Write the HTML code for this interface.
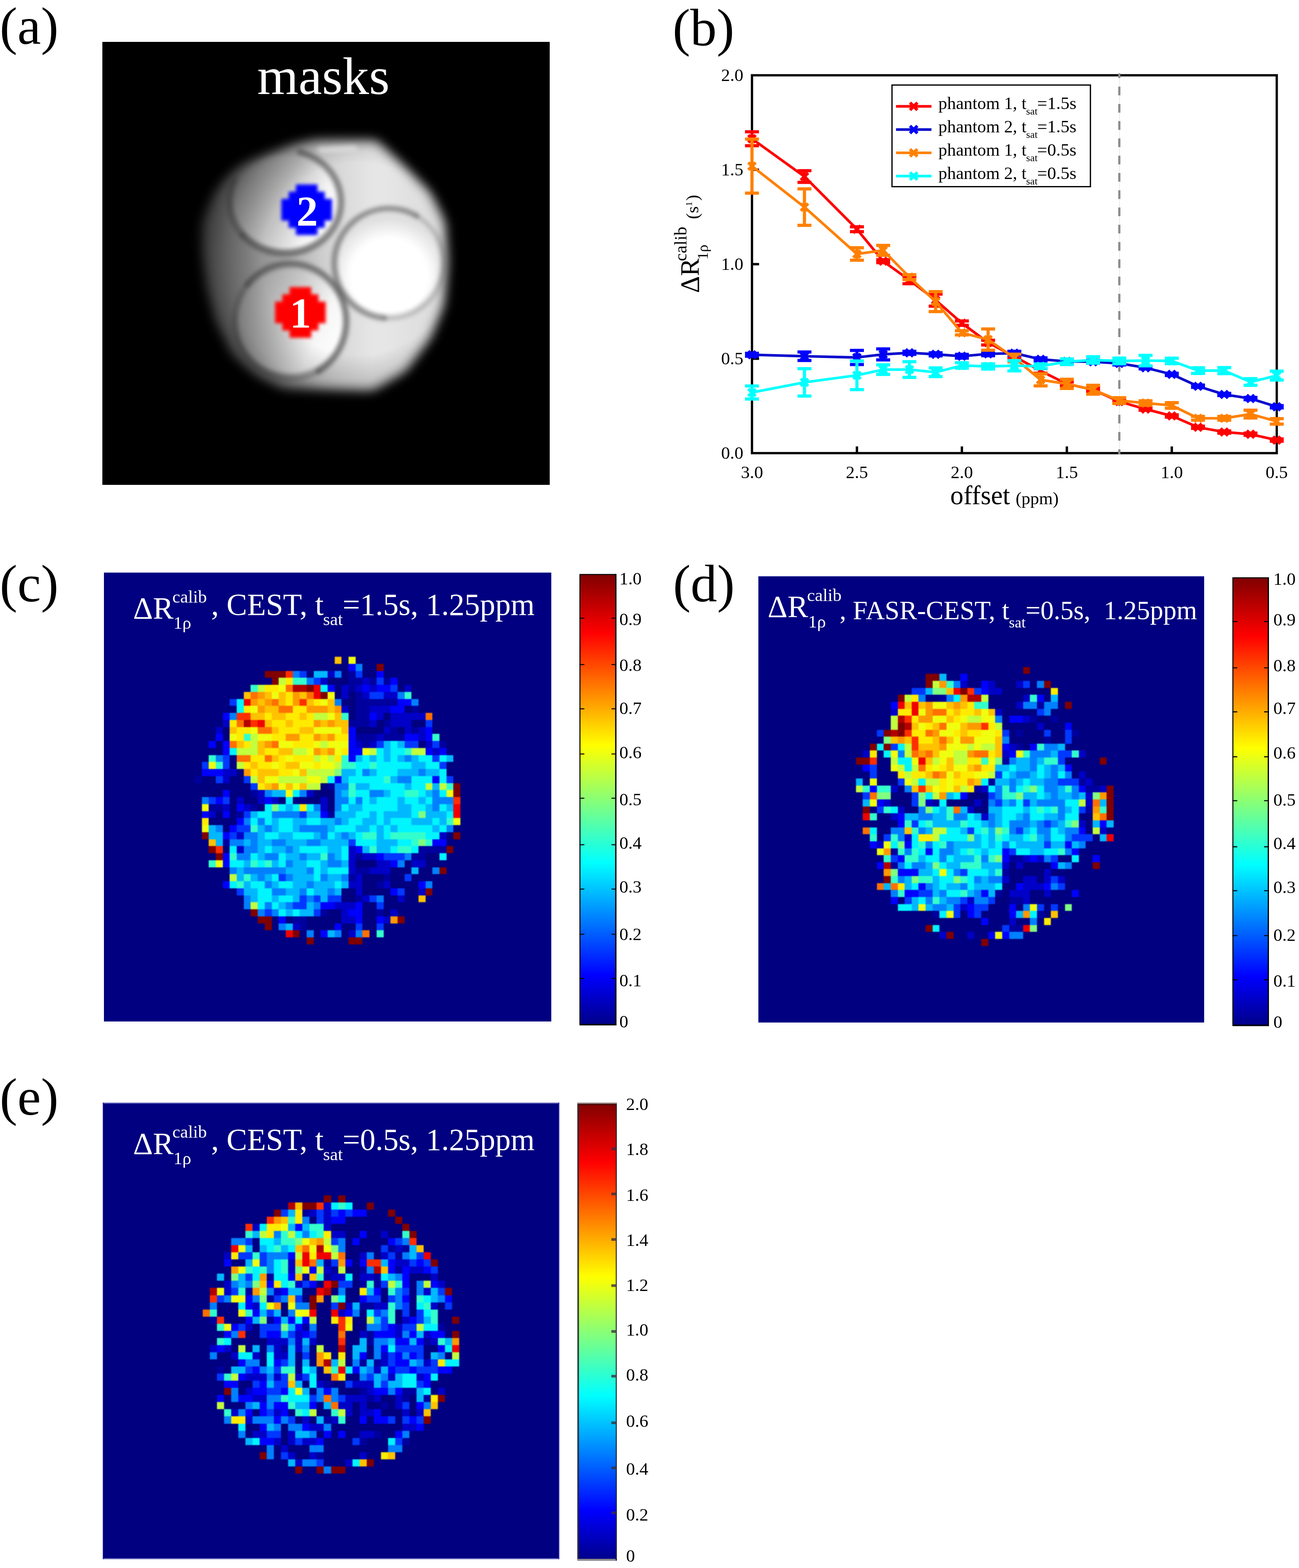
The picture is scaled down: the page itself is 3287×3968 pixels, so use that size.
<!DOCTYPE html>
<html lang="en"><head><meta charset="utf-8"><title>Figure: phantom masks, calibrated R1rho spectra and CEST maps</title>
<style>html,body{margin:0;padding:0;background:#fff}body{width:3287px;height:3968px;overflow:hidden}svg{display:block}text{white-space:pre}</style></head><body>
<svg width="3287" height="3968" viewBox="0 0 3287 3968">
<defs><linearGradient id="jet" x1="0" y1="1" x2="0" y2="0"><stop offset="0" stop-color="#000088"/><stop offset="0.11" stop-color="#0000ff"/><stop offset="0.36" stop-color="#00ffff"/><stop offset="0.62" stop-color="#ffff00"/><stop offset="0.87" stop-color="#ff0000"/><stop offset="1" stop-color="#800000"/></linearGradient><filter color-interpolation-filters="sRGB" id="bl12" x="-20%" y="-20%" width="140%" height="140%"><feGaussianBlur stdDeviation="17"/></filter><filter color-interpolation-filters="sRGB" id="bl6" x="-20%" y="-20%" width="140%" height="140%"><feGaussianBlur stdDeviation="5.5"/></filter><filter color-interpolation-filters="sRGB" id="bl3" x="-20%" y="-20%" width="140%" height="140%"><feGaussianBlur stdDeviation="5.5"/></filter><filter color-interpolation-filters="sRGB" id="bl2" x="-20%" y="-20%" width="140%" height="140%"><feGaussianBlur stdDeviation="4.2"/></filter><filter color-interpolation-filters="sRGB" id="bl20" x="-30%" y="-30%" width="160%" height="160%"><feGaussianBlur stdDeviation="24"/></filter><filter color-interpolation-filters="sRGB" id="px1" x="-3%" y="-3%" width="106%" height="106%"><feGaussianBlur stdDeviation="0.9"/></filter><filter color-interpolation-filters="sRGB" id="px2" x="-3%" y="-3%" width="106%" height="106%"><feGaussianBlur stdDeviation="1.3"/></filter><clipPath id="clipA"><rect x="259" y="106" width="1132" height="1121"/></clipPath></defs>
<rect width="3287" height="3968" fill="#fff"/>
<rect x="259" y="106" width="1132" height="1121" fill="#000"/>
<g clip-path="url(#clipA)">
<linearGradient id="gb" gradientUnits="userSpaceOnUse" x1="505" y1="0" x2="1145" y2="0"><stop offset="0" stop-color="#606060"/><stop offset="0.12" stop-color="#7c7c7c"/><stop offset="0.3" stop-color="#9c9c9c"/><stop offset="0.5" stop-color="#d2d2d2"/><stop offset="0.7" stop-color="#e8e8e8"/><stop offset="1" stop-color="#d8d8d8"/></linearGradient>
<path d="M795 346 L956 347 L1030 416 L1095 482 L1134 560 L1140 666 L1131 774 L1097 859 L1032 946 L945 997 L714 991 L646 959 L581 903 L537 817 L514 731 L502 640 L502 562 L531 490 L566 443 L612 407 L670 383 L740 358 Z" fill="url(#gb)" stroke="url(#gb)" stroke-width="6" stroke-linejoin="round" filter="url(#bl12)"/>
<radialGradient id="g3" gradientUnits="userSpaceOnUse" cx="985" cy="700" r="150"><stop offset="0" stop-color="#fff"/><stop offset="0.65" stop-color="#fff"/><stop offset="1" stop-color="#dedede"/></radialGradient>
<linearGradient id="g2" gradientUnits="userSpaceOnUse" x1="590" y1="480" x2="850" y2="600"><stop offset="0" stop-color="#8c8c8c"/><stop offset="0.4" stop-color="#bcbcbc"/><stop offset="0.75" stop-color="#f4f4f4"/><stop offset="1" stop-color="#ffffff"/></linearGradient>
<linearGradient id="g1" gradientUnits="userSpaceOnUse" x1="600" y1="760" x2="870" y2="880"><stop offset="0" stop-color="#949494"/><stop offset="0.4" stop-color="#c4c4c4"/><stop offset="0.75" stop-color="#f6f6f6"/><stop offset="1" stop-color="#ffffff"/></linearGradient>
<g filter="url(#bl6)">
<ellipse cx="721.5" cy="511" rx="130" ry="119" fill="url(#g2)"/>
<circle cx="735" cy="813" r="132" fill="url(#g1)"/>
<circle cx="984.5" cy="666.5" r="128" fill="url(#g3)"/>
<path d="M800 372 L900 366 L905 380 L810 386 Z" fill="#fff" opacity="0.7"/>
</g>
<g filter="url(#bl3)" fill="none" stroke="#404040" stroke-linecap="round">
<path d="M758.25 384.46A142 131 0 1 1 612.72 595.21" stroke-width="15" stroke-opacity="0.55"/>
<path d="M612.72 595.21A142 131 0 0 1 592.8 455.64" stroke-width="14" stroke-opacity="0.4"/>
<path d="M625.72 719.15A142 146 0 1 1 805.5 939.44" stroke-width="15" stroke-opacity="0.6"/>
<path d="M805.5 939.44A142 146 0 0 1 625.72 719.15" stroke-width="12" stroke-opacity="0.3"/>
<path d="M972.39 804.97A139 139 0 1 1 1054 546.12" stroke-width="14" stroke-opacity="0.5"/>
<path d="M1054 546.12A139 139 0 0 1 972.39 804.97" stroke-width="10" stroke-opacity="0.25"/>
</g>
<radialGradient id="gv" gradientUnits="userSpaceOnUse" cx="905" cy="655" r="405"><stop offset="0" stop-color="#000" stop-opacity="0"/><stop offset="0.6" stop-color="#000" stop-opacity="0"/><stop offset="0.82" stop-color="#000" stop-opacity="0.2"/><stop offset="1" stop-color="#000" stop-opacity="0.48"/></radialGradient>
<rect x="450" y="300" width="750" height="750" fill="url(#gv)"/>
<path d="M259 106H1391V1227H259Z M795 346 L956 347 L1030 416 L1095 482 L1134 560 L1140 666 L1131 774 L1097 859 L1032 946 L945 997 L714 991 L646 959 L581 903 L537 817 L514 731 L502 640 L502 562 L531 490 L566 443 L612 407 L670 383 L740 358 Z" fill="#000" fill-rule="evenodd" filter="url(#bl12)"/>
</g>
<path d="M711.95 503.35h128.1v54.9h-128.1zM730.25 485.05h91.5v91.5h-91.5zM748.55 466.75h54.9v128.1h-54.9z" fill="#0000ff" filter="url(#bl2)"/>
<path d="M695.95 763.15h128.1v54.9h-128.1zM714.25 744.85h91.5v91.5h-91.5zM732.55 726.55h54.9v128.1h-54.9z" fill="#ff0000" filter="url(#bl2)"/>
<g font-family='"Liberation Serif", "DejaVu Serif", serif' font-size="109" font-weight="bold" fill="#fff">
<text x="750" y="570.8">2</text>
<text x="733" y="829">1</text>
</g>
<text x="651" y="238" font-family='"Liberation Serif", "DejaVu Serif", serif' font-size="134" fill="#fff">masks</text>
<g id="chart">
<rect x="1902.8" y="190.5" width="1327.9" height="956.2" fill="none" stroke="#000" stroke-width="5.8"/>
<path d="M1902.8 907.65h18M1902.8 668.6h18M1902.8 429.55h18M2168.38 1146.7v-17M2433.96 1146.7v-17M2699.54 1146.7v-17M2965.12 1146.7v-17" stroke="#000" stroke-width="6" fill="none"/>
<line x1="2832.93" y1="190.5" x2="2832.93" y2="1146.7" stroke="#dcdcdc" stroke-width="1.2"/>
<line x1="2832.33" y1="185.5" x2="2832.33" y2="1149.7" stroke="#8c8c8c" stroke-width="5.6" stroke-dasharray="22 21.7" stroke-dashoffset="10"/>
<polyline points="1902.8,351.14 2035.59,446.76 2168.38,580.15 2234.78,660.95 2301.17,708.76 2367.57,759.44 2433.96,817.77 2500.36,867.01 2566.75,901.91 2633.14,938.73 2699.54,971.38 2765.93,986.2 2832.33,1016.18 2898.72,1035.3 2965.12,1052.51 3031.51,1081.25 3097.91,1093.3 3164.3,1098.89 3230.7,1113.71" fill="none" stroke="#ff0000" stroke-width="6.6" stroke-linejoin="round"/>
<path d="M1902.8 333.45V368.83M1885.15 333.45H1920.45M1885.15 368.83H1920.45M2035.59 431.94V461.58M2017.94 431.94H2053.24M2017.94 461.58H2053.24M2168.38 573.94V586.37M2150.73 573.94H2186.03M2150.73 586.37H2186.03M2234.78 657.13V664.78M2217.12 657.13H2252.43M2217.12 664.78H2252.43M2301.17 699.44V718.08M2283.52 699.44H2318.82M2283.52 718.08H2318.82M2367.57 744.14V774.74M2349.91 744.14H2385.22M2349.91 774.74H2385.22M2433.96 812.27V823.27M2416.31 812.27H2451.61M2416.31 823.27H2451.61M2500.36 860.99V873.04M2482.7 860.99H2518.01M2482.7 873.04H2518.01M2566.75 897.13V906.69M2549.1 897.13H2584.4M2549.1 906.69H2584.4M2633.14 932.99V944.46M2615.49 932.99H2650.8M2615.49 944.46H2650.8M2699.54 966.6V976.16M2681.89 966.6H2717.19M2681.89 976.16H2717.19M2765.93 982.38V990.03M2748.28 982.38H2783.59M2748.28 990.03H2783.59M2832.33 1012.35V1020M2814.68 1012.35H2849.98M2814.68 1020H2849.98M2898.72 1032.43V1038.17M2881.07 1032.43H2916.38M2881.07 1038.17H2916.38M2965.12 1049.65V1055.38M2947.47 1049.65H2982.77M2947.47 1055.38H2982.77M3031.51 1078.38V1084.12M3013.86 1078.38H3049.16M3013.86 1084.12H3049.16M3097.91 1090.43V1096.16M3080.26 1090.43H3115.56M3080.26 1096.16H3115.56M3164.3 1096.02V1101.76M3146.65 1096.02H3181.95M3146.65 1101.76H3181.95M3230.7 1110.84V1116.58M3213.05 1110.84H3248.35M3213.05 1116.58H3248.35" stroke="#ff0000" stroke-width="8" fill="none"/>
<path d="M1893.5 341.84L1912.1 360.44M1893.5 360.44L1912.1 341.84M2026.29 437.46L2044.89 456.06M2026.29 456.06L2044.89 437.46M2159.08 570.85L2177.68 589.45M2159.08 589.45L2177.68 570.85M2225.47 651.65L2244.08 670.25M2225.47 670.25L2244.08 651.65M2291.87 699.46L2310.47 718.06M2291.87 718.06L2310.47 699.46M2358.26 750.14L2376.87 768.74M2358.26 768.74L2376.87 750.14M2424.66 808.47L2443.26 827.07M2424.66 827.07L2443.26 808.47M2491.05 857.71L2509.66 876.31M2491.05 876.31L2509.66 857.71M2557.45 892.61L2576.05 911.21M2557.45 911.21L2576.05 892.61M2623.84 929.43L2642.45 948.03M2623.84 948.03L2642.45 929.43M2690.24 962.08L2708.84 980.68M2690.24 980.68L2708.84 962.08M2756.63 976.9L2775.24 995.5M2756.63 995.5L2775.24 976.9M2823.03 1006.88L2841.63 1025.48M2823.03 1025.48L2841.63 1006.88M2889.42 1026L2908.03 1044.6M2889.42 1044.6L2908.03 1026M2955.82 1043.21L2974.42 1061.81M2955.82 1061.81L2974.42 1043.21M3022.21 1071.95L3040.82 1090.55M3022.21 1090.55L3040.82 1071.95M3088.61 1084L3107.21 1102.6M3088.61 1102.6L3107.21 1084M3155 1089.59L3173.61 1108.19M3155 1108.19L3173.61 1089.59M3221.4 1104.41L3240 1123.01M3221.4 1123.01L3240 1104.41" stroke="#ff0000" stroke-width="7.8" fill="none"/>
<polyline points="1902.8,897.71 2035.59,901.43 2168.38,904.59 2234.78,896.8 2301.17,892.83 2367.57,896.65 2433.96,901.43 2500.36,895.51 2566.75,893.79 2633.14,909.32 2699.54,914.49 2765.93,915.49 2832.33,919.6 2898.72,930.6 2965.12,947.33 3031.51,977.45 3097.91,998.25 3164.3,1008.53 3230.7,1029.33" fill="none" stroke="#0a0acc" stroke-width="6.6" stroke-linejoin="round"/>
<path d="M1902.8 893.88V901.53M1885.15 893.88H1920.45M1885.15 901.53H1920.45M2035.59 890.63V912.24M2017.94 890.63H2053.24M2017.94 912.24H2053.24M2168.38 886.66V922.52M2150.73 886.66H2186.03M2150.73 922.52H2186.03M2234.78 882.93V910.66M2217.12 882.93H2252.43M2217.12 910.66H2252.43M2301.17 889V896.65M2283.52 889H2318.82M2283.52 896.65H2318.82M2367.57 892.83V900.48M2349.91 892.83H2385.22M2349.91 900.48H2385.22M2433.96 896.65V906.22M2416.31 896.65H2451.61M2416.31 906.22H2451.61M2500.36 890.73V900.29M2482.7 890.73H2518.01M2482.7 900.29H2518.01M2566.75 889V898.57M2549.1 889H2584.4M2549.1 898.57H2584.4M2633.14 905.5V913.15M2615.49 905.5H2650.8M2615.49 913.15H2650.8M2699.54 910.66V918.31M2681.89 910.66H2717.19M2681.89 918.31H2717.19M2765.93 911.67V919.32M2748.28 911.67H2783.59M2748.28 919.32H2783.59M2832.33 915.78V923.43M2814.68 915.78H2849.98M2814.68 923.43H2849.98M2898.72 927.73V933.47M2881.07 927.73H2916.38M2881.07 933.47H2916.38M2965.12 944.46V950.2M2947.47 944.46H2982.77M2947.47 950.2H2982.77M3031.51 974.58V980.32M3013.86 974.58H3049.16M3013.86 980.32H3049.16M3097.91 995.38V1001.12M3080.26 995.38H3115.56M3080.26 1001.12H3115.56M3164.3 1005.66V1011.4M3146.65 1005.66H3181.95M3146.65 1011.4H3181.95M3230.7 1026.46V1032.2M3213.05 1026.46H3248.35M3213.05 1032.2H3248.35" stroke="#0000ff" stroke-width="8" fill="none"/>
<path d="M1893.5 888.41L1912.1 907.01M1893.5 907.01L1912.1 888.41M2026.29 892.13L2044.89 910.73M2026.29 910.73L2044.89 892.13M2159.08 895.29L2177.68 913.89M2159.08 913.89L2177.68 895.29M2225.47 887.5L2244.08 906.1M2225.47 906.1L2244.08 887.5M2291.87 883.53L2310.47 902.13M2291.87 902.13L2310.47 883.53M2358.26 887.35L2376.87 905.95M2358.26 905.95L2376.87 887.35M2424.66 892.13L2443.26 910.73M2424.66 910.73L2443.26 892.13M2491.05 886.21L2509.66 904.81M2491.05 904.81L2509.66 886.21M2557.45 884.49L2576.05 903.09M2557.45 903.09L2576.05 884.49M2623.84 900.02L2642.45 918.62M2623.84 918.62L2642.45 900.02M2690.24 905.19L2708.84 923.79M2690.24 923.79L2708.84 905.19M2756.63 906.19L2775.24 924.79M2756.63 924.79L2775.24 906.19M2823.03 910.3L2841.63 928.9M2823.03 928.9L2841.63 910.3M2889.42 921.3L2908.03 939.9M2889.42 939.9L2908.03 921.3M2955.82 938.03L2974.42 956.63M2955.82 956.63L2974.42 938.03M3022.21 968.15L3040.82 986.75M3022.21 986.75L3040.82 968.15M3088.61 988.95L3107.21 1007.55M3088.61 1007.55L3107.21 988.95M3155 999.23L3173.61 1017.83M3155 1017.83L3173.61 999.23M3221.4 1020.03L3240 1038.63M3221.4 1038.63L3240 1020.03" stroke="#0000ff" stroke-width="7.8" fill="none"/>
<polyline points="1902.8,420.47 2035.59,524.21 2168.38,642.78 2234.78,633.46 2301.17,701.35 2367.57,763.26 2433.96,842.15 2500.36,859.36 2566.75,905.88 2633.14,961.2 2699.54,971.38 2765.93,986.2 2832.33,1013.79 2898.72,1020 2965.12,1026.08 3031.51,1058.54 3097.91,1058.54 3164.3,1047.88 3230.7,1066.38" fill="none" stroke="#ff8000" stroke-width="6.6" stroke-linejoin="round"/>
<path d="M1902.8 352.1V488.83M1885.15 352.1H1920.45M1885.15 488.83H1920.45M2035.59 478.08V570.35M2017.94 478.08H2053.24M2017.94 570.35H2053.24M2168.38 627.01V658.56M2150.73 627.01H2186.03M2150.73 658.56H2186.03M2234.78 621.03V645.89M2217.12 621.03H2252.43M2217.12 645.89H2252.43M2301.17 695.13V707.57M2283.52 695.13H2318.82M2283.52 707.57H2318.82M2367.57 737.92V788.6M2349.91 737.92H2385.22M2349.91 788.6H2385.22M2433.96 836.89V847.41M2416.31 836.89H2451.61M2416.31 847.41H2451.61M2500.36 832.59V886.14M2482.7 832.59H2518.01M2482.7 886.14H2518.01M2566.75 896.32V915.44M2549.1 896.32H2584.4M2549.1 915.44H2584.4M2633.14 945.9V976.5M2615.49 945.9H2650.8M2615.49 976.5H2650.8M2699.54 959.67V983.09M2681.89 959.67H2717.19M2681.89 983.09H2717.19M2765.93 974.97V997.44M2748.28 974.97H2783.59M2748.28 997.44H2783.59M2832.33 1006.62V1020.96M2814.68 1006.62H2849.98M2814.68 1020.96H2849.98M2898.72 1014.27V1025.74M2881.07 1014.27H2916.38M2881.07 1025.74H2916.38M2965.12 1019.1V1033.06M2947.47 1019.1H2982.77M2947.47 1033.06H2982.77M3031.51 1053.76V1063.32M3013.86 1053.76H3049.16M3013.86 1063.32H3049.16M3097.91 1053.76V1063.32M3080.26 1053.76H3115.56M3080.26 1063.32H3115.56M3164.3 1038.12V1057.63M3146.65 1038.12H3181.95M3146.65 1057.63H3181.95M3230.7 1059.4V1073.36M3213.05 1059.4H3248.35M3213.05 1073.36H3248.35" stroke="#ff8000" stroke-width="8" fill="none"/>
<path d="M1893.5 411.17L1912.1 429.77M1893.5 429.77L1912.1 411.17M2026.29 514.91L2044.89 533.51M2026.29 533.51L2044.89 514.91M2159.08 633.48L2177.68 652.08M2159.08 652.08L2177.68 633.48M2225.47 624.16L2244.08 642.76M2225.47 642.76L2244.08 624.16M2291.87 692.05L2310.47 710.65M2291.87 710.65L2310.47 692.05M2358.26 753.96L2376.87 772.56M2358.26 772.56L2376.87 753.96M2424.66 832.85L2443.26 851.45M2424.66 851.45L2443.26 832.85M2491.05 850.06L2509.66 868.66M2491.05 868.66L2509.66 850.06M2557.45 896.58L2576.05 915.18M2557.45 915.18L2576.05 896.58M2623.84 951.9L2642.45 970.5M2623.84 970.5L2642.45 951.9M2690.24 962.08L2708.84 980.68M2690.24 980.68L2708.84 962.08M2756.63 976.9L2775.24 995.5M2756.63 995.5L2775.24 976.9M2823.03 1004.49L2841.63 1023.09M2823.03 1023.09L2841.63 1004.49M2889.42 1010.7L2908.03 1029.3M2889.42 1029.3L2908.03 1010.7M2955.82 1016.78L2974.42 1035.38M2955.82 1035.38L2974.42 1016.78M3022.21 1049.24L3040.82 1067.84M3022.21 1067.84L3040.82 1049.24M3088.61 1049.24L3107.21 1067.84M3088.61 1067.84L3107.21 1049.24M3155 1038.58L3173.61 1057.18M3155 1057.18L3173.61 1038.58M3221.4 1057.08L3240 1075.68M3221.4 1075.68L3240 1057.08" stroke="#ff8000" stroke-width="7.8" fill="none"/>
<polyline points="1902.8,993.33 2035.59,967.6 2168.38,949.72 2234.78,935.38 2301.17,935.19 2367.57,942.07 2433.96,924.86 2500.36,927.25 2566.75,925.48 2633.14,926.77 2699.54,915.3 2765.93,911 2832.33,913.39 2898.72,912.43 2965.12,913.39 3031.51,937.91 3097.91,937.91 3164.3,966.7 3230.7,950.49" fill="none" stroke="#00ffff" stroke-width="6.6" stroke-linejoin="round"/>
<path d="M1902.8 976.78V1009.87M1885.15 976.78H1920.45M1885.15 1009.87H1920.45M2035.59 932.89V1002.31M2017.94 932.89H2053.24M2017.94 1002.31H2053.24M2168.38 913.39V986.06M2150.73 913.39H2186.03M2150.73 986.06H2186.03M2234.78 923.19V947.57M2217.12 923.19H2252.43M2217.12 947.57H2252.43M2301.17 915.35V955.03M2283.52 915.35H2318.82M2283.52 955.03H2318.82M2367.57 931.08V953.07M2349.91 931.08H2385.22M2349.91 953.07H2385.22M2433.96 917.93V931.79M2416.31 917.93H2451.61M2416.31 931.79H2451.61M2500.36 920.7V933.8M2482.7 920.7H2518.01M2482.7 933.8H2518.01M2566.75 912.57V938.39M2549.1 912.57H2584.4M2549.1 938.39H2584.4M2633.14 921.04V932.51M2615.49 921.04H2650.8M2615.49 932.51H2650.8M2699.54 908.13V922.47M2681.89 908.13H2717.19M2681.89 922.47H2717.19M2765.93 902.87V919.12M2748.28 902.87H2783.59M2748.28 919.12H2783.59M2832.33 906.22V920.56M2814.68 906.22H2849.98M2814.68 920.56H2849.98M2898.72 899.19V925.67M2881.07 899.19H2916.38M2881.07 925.67H2916.38M2965.12 906.41V920.37M2947.47 906.41H2982.77M2947.47 920.37H2982.77M3031.51 930.74V945.09M3013.86 930.74H3049.16M3013.86 945.09H3049.16M3097.91 930.26V945.56M3080.26 930.26H3115.56M3080.26 945.56H3115.56M3164.3 958.33V975.06M3146.65 958.33H3181.95M3146.65 975.06H3181.95M3230.7 939.35V961.63M3213.05 939.35H3248.35M3213.05 961.63H3248.35" stroke="#00ffff" stroke-width="8" fill="none"/>
<path d="M1893.5 984.03L1912.1 1002.63M1893.5 1002.63L1912.1 984.03M2026.29 958.3L2044.89 976.9M2026.29 976.9L2044.89 958.3M2159.08 940.42L2177.68 959.02M2159.08 959.02L2177.68 940.42M2225.47 926.08L2244.08 944.68M2225.47 944.68L2244.08 926.08M2291.87 925.89L2310.47 944.49M2291.87 944.49L2310.47 925.89M2358.26 932.77L2376.87 951.37M2358.26 951.37L2376.87 932.77M2424.66 915.56L2443.26 934.16M2424.66 934.16L2443.26 915.56M2491.05 917.95L2509.66 936.55M2491.05 936.55L2509.66 917.95M2557.45 916.18L2576.05 934.78M2557.45 934.78L2576.05 916.18M2623.84 917.47L2642.45 936.07M2623.84 936.07L2642.45 917.47M2690.24 906L2708.84 924.6M2690.24 924.6L2708.84 906M2756.63 901.7L2775.24 920.3M2756.63 920.3L2775.24 901.7M2823.03 904.09L2841.63 922.69M2823.03 922.69L2841.63 904.09M2889.42 903.13L2908.03 921.73M2889.42 921.73L2908.03 903.13M2955.82 904.09L2974.42 922.69M2955.82 922.69L2974.42 904.09M3022.21 928.61L3040.82 947.21M3022.21 947.21L3040.82 928.61M3088.61 928.61L3107.21 947.21M3088.61 947.21L3107.21 928.61M3155 957.4L3173.61 976M3155 976L3173.61 957.4M3221.4 941.19L3240 959.79M3221.4 959.79L3240 941.19" stroke="#00ffff" stroke-width="7.8" fill="none"/>
<g font-family='"Liberation Serif", "DejaVu Serif", serif' font-size="45" fill="#000">
<text x="1881" y="1161.2" text-anchor="end">0.0</text>
<text x="1881" y="922.15" text-anchor="end">0.5</text>
<text x="1881" y="683.1" text-anchor="end">1.0</text>
<text x="1881" y="444.05" text-anchor="end">1.5</text>
<text x="1881" y="205" text-anchor="end">2.0</text>
<text x="1902.8" y="1209.5" text-anchor="middle">3.0</text>
<text x="2168.38" y="1209.5" text-anchor="middle">2.5</text>
<text x="2433.96" y="1209.5" text-anchor="middle">2.0</text>
<text x="2699.54" y="1209.5" text-anchor="middle">1.5</text>
<text x="2965.12" y="1209.5" text-anchor="middle">1.0</text>
<text x="3230.7" y="1209.5" text-anchor="middle">0.5</text>
</g>
<text x="2404.5" y="1276" font-family='"Liberation Serif", "DejaVu Serif", serif' font-size="67" fill="#000">offset</text>
<text x="2570" y="1276" font-family='"Liberation Serif", "DejaVu Serif", serif' font-size="44.5" fill="#000">(ppm)</text>
<g transform="translate(1768.3 741.5) rotate(-90)" font-family='"Liberation Serif", "DejaVu Serif", serif' fill="#000"><text x="0" y="0" font-size="67">ΔR</text><text x="80.5" y="-31.6" font-size="45">calib</text><text x="84.6" y="22.6" font-size="38">1ρ</text><text x="187" y="-0.9" font-size="45">(s</text><text x="219.5" y="-17" font-size="24">1</text><text x="233.4" y="-0.9" font-size="45">)</text></g>
<rect x="2257.1" y="215.2" width="502.1" height="257.2" fill="#fff" stroke="#000" stroke-width="3.2"/>
<line x1="2267.3" y1="269.1" x2="2357" y2="269.1" stroke="#ff0000" stroke-width="6.6"/>
<path d="M2302.7 259.8L2321.3 278.4M2302.7 278.4L2321.3 259.8" stroke="#ff0000" stroke-width="7.8" fill="none"/>
<line x1="2267.3" y1="327.9" x2="2357" y2="327.9" stroke="#0a0acc" stroke-width="6.6"/>
<path d="M2302.7 318.6L2321.3 337.2M2302.7 337.2L2321.3 318.6" stroke="#0000ff" stroke-width="7.8" fill="none"/>
<line x1="2267.3" y1="386.8" x2="2357" y2="386.8" stroke="#ff8000" stroke-width="6.6"/>
<path d="M2302.7 377.5L2321.3 396.1M2302.7 396.1L2321.3 377.5" stroke="#ff8000" stroke-width="7.8" fill="none"/>
<line x1="2267.3" y1="445.6" x2="2357" y2="445.6" stroke="#00ffff" stroke-width="6.6"/>
<path d="M2302.7 436.3L2321.3 454.9M2302.7 454.9L2321.3 436.3" stroke="#00ffff" stroke-width="7.8" fill="none"/>
<g font-family='"Liberation Serif", "DejaVu Serif", serif' fill="#000">
<text x="2374.6" y="276.3" font-size="44.3">phantom 1, t</text>
<text x="2596.6" y="290.1" font-size="26">sat</text>
<text x="2624.5" y="276.3" font-size="45">=1.5s</text>
<text x="2374.6" y="335.1" font-size="44.3">phantom 2, t</text>
<text x="2596.6" y="348.9" font-size="26">sat</text>
<text x="2624.5" y="335.1" font-size="45">=1.5s</text>
<text x="2374.6" y="394" font-size="44.3">phantom 1, t</text>
<text x="2596.6" y="407.8" font-size="26">sat</text>
<text x="2624.5" y="394" font-size="45">=0.5s</text>
<text x="2374.6" y="452.8" font-size="44.3">phantom 2, t</text>
<text x="2596.6" y="466.6" font-size="26">sat</text>
<text x="2624.5" y="452.8" font-size="45">=0.5s</text>
</g>
</g>
<g id="mapc"><rect x="263" y="1449" width="1132" height="1136" fill="#000080"/>
<g filter="url(#px1)">
<g transform="translate(263 1449) scale(17.68750 17.75000)" shape-rendering="crispEdges">
<path fill="#00009e" d="M35 14h1v1h-1zM35 15h2v1h-2zM38 15h1v1h-1zM40 15h1v1h-1zM35 16h1v1h-1zM36 17h1v1h-1zM36 18h6v1h-6zM36 19h2v1h-2zM44 19h1v1h-1zM36 20h2v1h-2zM35 21h3v1h-3zM40 21h1v1h-1zM41 22h1v1h-1zM44 22h1v1h-1zM36 23h3v1h-3zM40 23h3v1h-3zM37 24h1v1h-1zM48 24h1v1h-1zM13 29h1v1h-1zM32 30h1v1h-1zM21 31h1v1h-1zM15 33h2v1h-2zM21 33h1v1h-1zM19 34h1v1h-1zM32 34h1v1h-1zM17 38h1v1h-1zM45 39h4v1h-4zM36 40h1v1h-1zM44 40h2v1h-2zM36 42h2v1h-2zM35 43h1v1h-1zM40 43h1v1h-1zM39 44h1v1h-1zM36 46h1v1h-1zM31 48h1v1h-1zM39 48h1v1h-1zM27 49h2v1h-2zM28 50h1v1h-1z"/>
<path fill="#0000c7" d="M32 14h1v1h-1zM31 15h1v1h-1zM37 15h1v1h-1zM34 16h1v1h-1zM36 16h1v1h-1zM38 16h1v1h-1zM43 16h1v1h-1zM34 17h1v1h-1zM37 17h1v1h-1zM40 17h2v1h-2zM34 19h1v1h-1zM38 19h3v1h-3zM39 20h1v1h-1zM41 20h5v1h-5zM17 21h1v1h-1zM38 21h1v1h-1zM41 21h3v1h-3zM16 22h1v1h-1zM40 22h1v1h-1zM43 22h1v1h-1zM45 22h1v1h-1zM39 23h1v1h-1zM45 23h1v1h-1zM36 24h1v1h-1zM38 24h1v1h-1zM46 24h1v1h-1zM47 25h1v1h-1zM17 28h2v1h-2zM17 29h1v1h-1zM22 31h1v1h-1zM29 31h1v1h-1zM19 32h1v1h-1zM22 32h1v1h-1zM24 32h1v1h-1zM31 32h1v1h-1zM17 33h1v1h-1zM20 33h1v1h-1zM31 33h1v1h-1zM15 34h1v1h-1zM19 37h1v1h-1zM48 37h1v1h-1zM19 39h1v1h-1zM35 39h1v1h-1zM35 40h1v1h-1zM37 40h2v1h-2zM35 41h1v1h-1zM39 41h2v1h-2zM44 41h2v1h-2zM35 42h1v1h-1zM38 42h3v1h-3zM36 43h1v1h-1zM35 44h2v1h-2zM40 44h1v1h-1zM36 45h1v1h-1zM45 45h1v1h-1zM37 46h1v1h-1zM42 46h1v1h-1zM33 47h3v1h-3zM34 48h1v1h-1zM41 48h1v1h-1zM34 49h2v1h-2zM40 49h1v1h-1zM27 50h1v1h-1zM35 51h1v1h-1z"/>
<path fill="#0000ff" d="M35 13h1v1h-1zM39 14h1v1h-1zM41 15h1v1h-1zM32 16h1v1h-1zM37 16h1v1h-1zM39 16h2v1h-2zM42 18h2v1h-2zM41 19h2v1h-2zM17 20h1v1h-1zM38 20h1v1h-1zM35 22h1v1h-1zM46 22h1v1h-1zM16 23h1v1h-1zM35 23h1v1h-1zM43 23h2v1h-2zM46 23h1v1h-1zM15 24h1v1h-1zM17 24h1v1h-1zM35 24h1v1h-1zM17 25h1v1h-1zM35 25h2v1h-2zM46 25h1v1h-1zM48 25h1v1h-1zM35 26h1v1h-1zM14 28h3v1h-3zM33 29h1v1h-1zM47 29h1v1h-1zM17 31h1v1h-1zM16 32h1v1h-1zM23 32h1v1h-1zM19 33h1v1h-1zM14 34h1v1h-1zM17 34h1v1h-1zM31 34h1v1h-1zM19 35h1v1h-1zM18 36h1v1h-1zM17 37h1v1h-1zM47 38h2v1h-2zM36 39h1v1h-1zM17 40h1v1h-1zM39 40h1v1h-1zM17 41h1v1h-1zM41 41h1v1h-1zM17 44h1v1h-1zM45 44h1v1h-1zM41 45h1v1h-1zM31 47h2v1h-2zM36 47h1v1h-1zM35 48h2v1h-2zM25 49h1v1h-1zM36 49h1v1h-1zM39 49h1v1h-1zM33 50h1v1h-1zM31 51h1v1h-1z"/>
<path fill="#0038ff" d="M28 14h1v1h-1zM36 14h1v1h-1zM30 15h1v1h-1zM39 15h1v1h-1zM41 16h1v1h-1zM38 17h2v1h-2zM18 18h1v1h-1zM46 21h1v1h-1zM39 24h1v1h-1zM43 24h2v1h-2zM47 24h1v1h-1zM17 26h1v1h-1zM47 26h1v1h-1zM14 27h1v1h-1zM17 27h1v1h-1zM48 27h1v1h-1zM16 29h1v1h-1zM20 29h1v1h-1zM49 29h1v1h-1zM21 30h1v1h-1zM15 32h1v1h-1zM17 32h1v1h-1zM20 34h1v1h-1zM28 34h1v1h-1zM19 36h2v1h-2zM18 37h1v1h-1zM35 38h1v1h-1zM40 40h3v1h-3zM25 43h1v1h-1zM43 43h1v1h-1zM19 45h1v1h-1zM42 45h1v1h-1zM28 46h1v1h-1zM30 46h1v1h-1zM32 46h2v1h-2zM38 46h1v1h-1zM27 47h2v1h-2zM39 47h1v1h-1zM23 48h1v1h-1zM30 48h1v1h-1zM36 50h1v1h-1zM39 50h1v1h-1z"/>
<path fill="#0080ff" d="M36 13h1v1h-1zM27 14h1v1h-1zM33 14h1v1h-1zM29 15h1v1h-1zM42 17h1v1h-1zM33 18h1v1h-1zM44 18h1v1h-1zM18 20h1v1h-1zM16 26h1v1h-1zM43 26h1v1h-1zM37 28h1v1h-1zM45 28h1v1h-1zM42 29h2v1h-2zM33 30h2v1h-2zM23 31h1v1h-1zM28 31h1v1h-1zM33 31h1v1h-1zM38 31h2v1h-2zM47 31h1v1h-1zM14 32h1v1h-1zM33 32h2v1h-2zM36 32h1v1h-1zM47 32h3v1h-3zM30 33h1v1h-1zM33 33h1v1h-1zM47 33h1v1h-1zM24 34h4v1h-4zM20 35h1v1h-1zM22 35h1v1h-1zM33 35h1v1h-1zM16 36h1v1h-1zM23 36h1v1h-1zM28 36h4v1h-4zM49 36h1v1h-1zM20 37h2v1h-2zM31 37h1v1h-1zM34 37h1v1h-1zM18 38h2v1h-2zM21 38h1v1h-1zM24 38h2v1h-2zM29 38h2v1h-2zM20 39h2v1h-2zM26 39h1v1h-1zM19 40h2v1h-2zM23 40h2v1h-2zM28 40h1v1h-1zM32 40h1v1h-1zM43 40h1v1h-1zM26 41h1v1h-1zM32 41h2v1h-2zM42 41h1v1h-1zM18 42h1v1h-1zM20 42h6v1h-6zM29 42h1v1h-1zM47 42h1v1h-1zM22 43h1v1h-1zM26 43h1v1h-1zM31 43h1v1h-1zM34 43h1v1h-1zM23 44h1v1h-1zM29 44h1v1h-1zM46 44h1v1h-1zM24 45h2v1h-2zM28 45h1v1h-1zM32 45h1v1h-1zM20 46h1v1h-1zM29 46h1v1h-1zM39 46h1v1h-1zM20 47h1v1h-1zM23 47h1v1h-1zM26 47h1v1h-1zM30 47h1v1h-1zM22 48h1v1h-1zM24 48h1v1h-1zM25 50h1v1h-1zM29 51h1v1h-1zM33 51h1v1h-1zM36 51h1v1h-1z"/>
<path fill="#00b8ff" d="M30 14h2v1h-2zM40 24h1v1h-1zM42 24h1v1h-1zM40 25h1v1h-1zM36 26h1v1h-1zM38 26h1v1h-1zM40 26h1v1h-1zM42 26h1v1h-1zM44 26h1v1h-1zM49 26h1v1h-1zM44 27h2v1h-2zM34 28h2v1h-2zM38 28h1v1h-1zM42 28h3v1h-3zM46 28h2v1h-2zM34 29h1v1h-1zM41 29h1v1h-1zM36 30h2v1h-2zM43 30h1v1h-1zM47 30h1v1h-1zM24 31h2v1h-2zM34 31h1v1h-1zM40 31h1v1h-1zM46 31h1v1h-1zM38 32h1v1h-1zM42 32h1v1h-1zM45 32h1v1h-1zM26 33h1v1h-1zM35 33h2v1h-2zM42 33h2v1h-2zM46 33h1v1h-1zM49 33h1v1h-1zM21 34h1v1h-1zM29 34h2v1h-2zM33 34h3v1h-3zM38 34h1v1h-1zM40 34h4v1h-4zM46 34h3v1h-3zM24 35h1v1h-1zM27 35h2v1h-2zM31 35h2v1h-2zM34 35h1v1h-1zM37 35h2v1h-2zM40 35h1v1h-1zM44 35h3v1h-3zM48 35h1v1h-1zM15 36h1v1h-1zM22 36h1v1h-1zM24 36h1v1h-1zM27 36h1v1h-1zM32 36h1v1h-1zM36 36h2v1h-2zM39 36h1v1h-1zM41 36h1v1h-1zM47 36h1v1h-1zM15 37h2v1h-2zM22 37h1v1h-1zM25 37h2v1h-2zM30 37h1v1h-1zM33 37h1v1h-1zM35 37h1v1h-1zM39 37h1v1h-1zM16 38h1v1h-1zM20 38h1v1h-1zM22 38h2v1h-2zM26 38h3v1h-3zM31 38h4v1h-4zM39 38h3v1h-3zM22 39h1v1h-1zM24 39h2v1h-2zM27 39h1v1h-1zM32 39h2v1h-2zM37 39h1v1h-1zM39 39h2v1h-2zM22 40h1v1h-1zM26 40h2v1h-2zM29 40h2v1h-2zM33 40h1v1h-1zM20 41h1v1h-1zM24 41h1v1h-1zM27 41h2v1h-2zM31 41h1v1h-1zM34 41h1v1h-1zM19 42h1v1h-1zM26 42h3v1h-3zM31 42h1v1h-1zM44 42h1v1h-1zM19 43h1v1h-1zM21 43h1v1h-1zM23 43h1v1h-1zM27 43h3v1h-3zM32 43h2v1h-2zM20 44h1v1h-1zM24 44h1v1h-1zM27 44h2v1h-2zM30 44h3v1h-3zM34 44h1v1h-1zM20 45h2v1h-2zM26 45h2v1h-2zM30 45h2v1h-2zM33 45h1v1h-1zM21 46h1v1h-1zM24 46h1v1h-1zM27 46h1v1h-1zM31 46h1v1h-1zM25 47h1v1h-1zM29 47h1v1h-1zM26 48h1v1h-1zM28 48h2v1h-2zM26 50h1v1h-1zM32 51h1v1h-1z"/>
<path fill="#00f5ff" d="M31 16h1v1h-1zM19 18h1v1h-1zM19 19h1v1h-1zM41 24h1v1h-1zM18 25h1v1h-1zM39 25h1v1h-1zM41 25h2v1h-2zM37 26h1v1h-1zM39 26h1v1h-1zM41 26h1v1h-1zM45 26h2v1h-2zM48 26h1v1h-1zM36 27h2v1h-2zM39 27h5v1h-5zM46 27h2v1h-2zM36 28h1v1h-1zM39 28h3v1h-3zM48 28h1v1h-1zM32 29h1v1h-1zM35 29h5v1h-5zM44 29h3v1h-3zM48 29h1v1h-1zM38 30h5v1h-5zM44 30h2v1h-2zM27 31h1v1h-1zM36 31h2v1h-2zM41 31h2v1h-2zM45 31h1v1h-1zM48 31h1v1h-1zM26 32h1v1h-1zM35 32h1v1h-1zM37 32h1v1h-1zM39 32h3v1h-3zM43 32h2v1h-2zM46 32h1v1h-1zM23 33h1v1h-1zM25 33h1v1h-1zM27 33h1v1h-1zM29 33h1v1h-1zM34 33h1v1h-1zM37 33h5v1h-5zM44 33h2v1h-2zM48 33h1v1h-1zM22 34h2v1h-2zM36 34h2v1h-2zM39 34h1v1h-1zM44 34h1v1h-1zM49 34h1v1h-1zM21 35h1v1h-1zM23 35h1v1h-1zM25 35h2v1h-2zM29 35h2v1h-2zM35 35h2v1h-2zM39 35h1v1h-1zM41 35h3v1h-3zM47 35h1v1h-1zM25 36h2v1h-2zM33 36h3v1h-3zM38 36h1v1h-1zM40 36h1v1h-1zM42 36h5v1h-5zM48 36h1v1h-1zM23 37h2v1h-2zM27 37h3v1h-3zM32 37h1v1h-1zM36 37h1v1h-1zM40 37h1v1h-1zM46 37h2v1h-2zM36 38h3v1h-3zM42 38h2v1h-2zM18 39h1v1h-1zM23 39h1v1h-1zM28 39h4v1h-4zM34 39h1v1h-1zM41 39h1v1h-1zM44 39h1v1h-1zM21 40h1v1h-1zM25 40h1v1h-1zM34 40h1v1h-1zM48 40h1v1h-1zM18 41h2v1h-2zM22 41h1v1h-1zM25 41h1v1h-1zM29 41h2v1h-2zM30 42h1v1h-1zM32 42h3v1h-3zM24 43h1v1h-1zM30 43h1v1h-1zM18 44h1v1h-1zM21 44h2v1h-2zM25 44h2v1h-2zM33 44h1v1h-1zM22 45h2v1h-2zM29 45h1v1h-1zM22 46h2v1h-2zM25 46h2v1h-2zM22 47h1v1h-1zM24 47h1v1h-1zM25 48h1v1h-1zM27 48h1v1h-1z"/>
<path fill="#33ffcc" d="M27 15h2v1h-2zM21 16h1v1h-1zM43 17h1v1h-1zM34 20h1v1h-1zM20 23h1v1h-1zM47 23h1v1h-1zM43 25h1v1h-1zM15 26h1v1h-1zM34 26h1v1h-1zM16 27h1v1h-1zM34 27h2v1h-2zM38 27h1v1h-1zM40 29h1v1h-1zM35 30h1v1h-1zM49 30h1v1h-1zM35 31h1v1h-1zM43 31h2v1h-2zM49 35h1v1h-1zM21 36h1v1h-1zM37 37h2v1h-2zM41 37h5v1h-5zM44 38h1v1h-1zM46 38h1v1h-1zM38 39h1v1h-1zM42 39h2v1h-2zM18 40h1v1h-1zM31 40h1v1h-1zM15 41h1v1h-1zM21 41h1v1h-1zM23 41h1v1h-1zM20 43h1v1h-1zM19 44h1v1h-1zM39 51h1v1h-1z"/>
<path fill="#80ff80" d="M33 28h1v1h-1zM24 33h1v1h-1zM45 34h1v1h-1zM45 38h1v1h-1z"/>
<path fill="#c2ff3d" d="M25 15h1v1h-1zM22 16h1v1h-1zM30 20h2v1h-2zM21 23h1v1h-1zM21 24h1v1h-1zM31 24h1v1h-1zM19 25h3v1h-3zM27 25h2v1h-2zM38 25h1v1h-1zM44 25h2v1h-2zM30 26h1v1h-1zM32 26h1v1h-1zM19 27h1v1h-1zM33 27h1v1h-1zM29 28h4v1h-4zM21 29h1v1h-1zM25 29h4v1h-4zM31 29h1v1h-1zM29 30h2v1h-2zM46 30h1v1h-1zM48 30h1v1h-1zM18 43h1v1h-1zM21 47h1v1h-1z"/>
<path fill="#f0ff0f" d="M35 12h1v1h-1zM25 16h1v1h-1zM24 17h1v1h-1zM32 17h1v1h-1zM31 18h1v1h-1zM21 19h1v1h-1zM32 20h1v1h-1zM21 22h1v1h-1zM30 22h4v1h-4zM18 23h1v1h-1zM22 23h2v1h-2zM25 24h2v1h-2zM30 24h1v1h-1zM32 24h3v1h-3zM29 25h1v1h-1zM33 25h1v1h-1zM37 25h1v1h-1zM26 26h1v1h-1zM31 26h1v1h-1zM15 27h1v1h-1zM24 27h1v1h-1zM28 27h2v1h-2zM31 27h2v1h-2zM27 28h1v1h-1zM23 29h2v1h-2zM29 29h2v1h-2zM25 30h1v1h-1zM27 30h1v1h-1zM26 31h1v1h-1zM49 31h1v1h-1zM14 33h1v1h-1zM50 35h1v1h-1zM14 36h1v1h-1zM16 41h1v1h-1z"/>
<path fill="#ffeb00" d="M26 15h1v1h-1zM23 16h2v1h-2zM26 17h1v1h-1zM26 18h1v1h-1zM30 18h1v1h-1zM20 19h1v1h-1zM27 19h2v1h-2zM23 20h1v1h-1zM26 20h2v1h-2zM29 20h1v1h-1zM18 21h1v1h-1zM24 21h2v1h-2zM27 21h3v1h-3zM19 22h2v1h-2zM25 22h3v1h-3zM19 23h1v1h-1zM24 23h2v1h-2zM28 23h2v1h-2zM33 23h2v1h-2zM20 24h1v1h-1zM27 24h3v1h-3zM23 25h2v1h-2zM34 25h1v1h-1zM21 26h2v1h-2zM25 26h1v1h-1zM27 26h3v1h-3zM33 26h1v1h-1zM20 27h1v1h-1zM22 27h2v1h-2zM25 27h1v1h-1zM30 27h1v1h-1zM21 28h1v1h-1zM25 28h2v1h-2zM22 30h1v1h-1zM28 33h1v1h-1zM14 35h1v1h-1z"/>
<path fill="#ffc200" d="M33 12h1v1h-1zM20 17h1v1h-1zM23 17h1v1h-1zM25 17h1v1h-1zM28 17h1v1h-1zM22 18h1v1h-1zM25 18h1v1h-1zM29 18h1v1h-1zM32 18h1v1h-1zM23 19h2v1h-2zM32 19h1v1h-1zM21 20h2v1h-2zM24 20h2v1h-2zM28 20h1v1h-1zM33 20h1v1h-1zM23 21h1v1h-1zM26 21h1v1h-1zM31 21h1v1h-1zM33 21h2v1h-2zM18 22h1v1h-1zM24 22h1v1h-1zM28 22h2v1h-2zM34 22h1v1h-1zM31 23h1v1h-1zM19 24h1v1h-1zM22 24h1v1h-1zM22 25h1v1h-1zM25 25h2v1h-2zM31 25h1v1h-1zM24 26h1v1h-1zM21 27h1v1h-1zM26 27h2v1h-2zM22 28h3v1h-3zM28 28h1v1h-1zM22 29h1v1h-1zM23 30h1v1h-1zM26 30h1v1h-1zM28 30h1v1h-1zM15 38h1v1h-1zM45 46h1v1h-1z"/>
<path fill="#ff9900" d="M22 17h1v1h-1zM27 17h1v1h-1zM21 18h1v1h-1zM23 18h1v1h-1zM27 18h1v1h-1zM22 19h1v1h-1zM29 19h3v1h-3zM33 19h1v1h-1zM30 21h1v1h-1zM32 21h1v1h-1zM26 23h2v1h-2zM30 23h1v1h-1zM32 23h1v1h-1zM23 24h1v1h-1zM30 25h1v1h-1zM32 25h1v1h-1zM20 28h1v1h-1zM24 30h1v1h-1zM41 49h1v1h-1z"/>
<path fill="#ff7000" d="M26 16h1v1h-1zM21 17h1v1h-1zM29 17h1v1h-1zM24 18h1v1h-1zM25 19h2v1h-2zM46 20h1v1h-1zM19 21h1v1h-1zM22 22h2v1h-2zM18 24h1v1h-1zM24 24h1v1h-1zM19 26h2v1h-2zM23 26h1v1h-1zM37 51h1v1h-1z"/>
<path fill="#ff2e00" d="M26 14h1v1h-1zM28 18h1v1h-1zM19 20h2v1h-2zM21 21h1v1h-1zM50 32h1v1h-1zM16 39h1v1h-1z"/>
<path fill="#f00000" d="M30 16h1v1h-1zM30 17h1v1h-1zM20 18h1v1h-1zM22 21h1v1h-1zM50 33h1v1h-1zM50 34h1v1h-1zM26 51h1v1h-1z"/>
<path fill="#b30000" d="M27 16h2v1h-2zM20 21h1v1h-1z"/>
<path fill="#800000" d="M39 13h1v1h-1zM23 14h3v1h-3zM24 15h1v1h-1zM29 16h1v1h-1zM31 17h1v1h-1zM50 30h1v1h-1zM50 31h1v1h-1zM14 37h1v1h-1zM50 37h1v1h-1zM15 39h1v1h-1zM49 39h1v1h-1zM16 40h1v1h-1zM48 42h1v1h-1zM46 45h1v1h-1zM21 48h1v1h-1zM22 49h2v1h-2zM42 49h1v1h-1zM23 50h1v1h-1zM27 51h1v1h-1zM29 52h1v1h-1zM35 52h2v1h-2z"/>
</g>
</g></g>
<g id="mapd"><rect x="1919" y="1458.4" width="1128" height="1129.2" fill="#000080"/>
<g filter="url(#px1)">
<g transform="translate(1919 1458.4) scale(17.62500 17.64375)" shape-rendering="crispEdges">
<path fill="#00009e" d="M26 17h1v1h-1zM40 18h1v1h-1zM39 20h1v1h-1zM42 20h1v1h-1zM37 22h1v1h-1zM45 22h1v1h-1zM41 23h1v1h-1zM37 24h1v1h-1zM35 26h1v1h-1zM33 29h1v1h-1zM46 29h1v1h-1zM31 30h1v1h-1zM47 30h2v1h-2zM25 32h1v1h-1zM47 33h1v1h-1zM19 39h1v1h-1zM36 40h2v1h-2zM19 41h1v1h-1zM35 42h1v1h-1zM34 45h1v1h-1zM36 46h2v1h-2zM25 48h1v1h-1zM40 48h1v1h-1zM36 50h2v1h-2z"/>
<path fill="#0000c7" d="M29 15h1v1h-1zM33 15h1v1h-1zM37 15h1v1h-1zM33 16h2v1h-2zM38 17h1v1h-1zM37 18h1v1h-1zM19 19h1v1h-1zM34 19h1v1h-1zM38 20h1v1h-1zM40 21h1v1h-1zM36 24h1v1h-1zM15 25h1v1h-1zM35 25h1v1h-1zM46 25h1v1h-1zM46 28h1v1h-1zM47 29h1v1h-1zM19 30h1v1h-1zM32 30h1v1h-1zM49 30h1v1h-1zM47 31h1v1h-1zM18 32h1v1h-1zM24 32h1v1h-1zM31 32h1v1h-1zM47 32h1v1h-1zM20 33h1v1h-1zM30 33h1v1h-1zM19 34h1v1h-1zM32 34h1v1h-1zM46 35h1v1h-1zM49 36h1v1h-1zM21 37h1v1h-1zM17 38h1v1h-1zM38 40h1v1h-1zM40 40h1v1h-1zM35 41h1v1h-1zM37 41h1v1h-1zM41 42h1v1h-1zM35 43h1v1h-1zM38 43h2v1h-2zM41 43h1v1h-1zM43 43h1v1h-1zM38 44h3v1h-3zM36 45h3v1h-3zM41 45h1v1h-1zM30 46h1v1h-1zM38 46h1v1h-1zM29 47h1v1h-1zM36 49h1v1h-1zM26 51h1v1h-1zM30 51h1v1h-1z"/>
<path fill="#0000ff" d="M29 14h1v1h-1zM32 15h1v1h-1zM32 16h1v1h-1zM40 17h1v1h-1zM19 18h1v1h-1zM36 20h2v1h-2zM44 21h1v1h-1zM35 24h1v1h-1zM39 24h1v1h-1zM36 25h1v1h-1zM15 27h1v1h-1zM44 27h1v1h-1zM16 30h1v1h-1zM46 30h1v1h-1zM29 31h1v1h-1zM17 32h1v1h-1zM20 34h1v1h-1zM20 35h1v1h-1zM49 35h1v1h-1zM46 36h1v1h-1zM16 38h1v1h-1zM21 38h1v1h-1zM44 38h1v1h-1zM24 39h1v1h-1zM35 39h1v1h-1zM45 39h1v1h-1zM20 40h1v1h-1zM35 40h1v1h-1zM39 40h1v1h-1zM48 40h1v1h-1zM17 41h1v1h-1zM42 41h1v1h-1zM20 42h3v1h-3zM23 44h1v1h-1zM37 44h1v1h-1zM41 44h1v1h-1zM21 45h2v1h-2zM32 45h1v1h-1zM45 45h1v1h-1zM19 46h1v1h-1zM30 47h1v1h-1zM36 47h1v1h-1zM30 48h1v1h-1zM36 48h1v1h-1zM32 49h1v1h-1zM33 51h1v1h-1zM35 51h1v1h-1z"/>
<path fill="#0038ff" d="M38 15h1v1h-1zM22 16h2v1h-2zM31 16h1v1h-1zM40 19h1v1h-1zM17 22h1v1h-1zM35 22h1v1h-1zM41 22h1v1h-1zM44 22h1v1h-1zM44 23h1v1h-1zM19 24h1v1h-1zM43 25h2v1h-2zM43 26h1v1h-1zM16 27h1v1h-1zM16 28h1v1h-1zM34 28h1v1h-1zM20 29h1v1h-1zM43 29h3v1h-3zM15 31h1v1h-1zM22 31h1v1h-1zM33 31h1v1h-1zM22 32h1v1h-1zM34 32h1v1h-1zM38 32h1v1h-1zM17 33h1v1h-1zM46 33h1v1h-1zM22 35h1v1h-1zM41 35h1v1h-1zM30 36h1v1h-1zM37 36h1v1h-1zM18 37h1v1h-1zM45 37h3v1h-3zM41 38h1v1h-1zM36 39h1v1h-1zM19 40h1v1h-1zM42 40h1v1h-1zM29 42h1v1h-1zM42 43h1v1h-1zM43 44h1v1h-1zM23 45h2v1h-2zM21 46h1v1h-1zM29 46h1v1h-1zM33 46h1v1h-1zM28 47h1v1h-1zM31 47h2v1h-2zM40 47h1v1h-1zM42 47h1v1h-1zM28 48h1v1h-1zM31 48h1v1h-1zM35 50h1v1h-1z"/>
<path fill="#0080ff" d="M28 15h1v1h-1zM40 15h1v1h-1zM23 17h1v1h-1zM27 17h1v1h-1zM38 18h2v1h-2zM41 18h2v1h-2zM41 19h1v1h-1zM34 20h1v1h-1zM35 23h1v1h-1zM41 24h2v1h-2zM20 25h1v1h-1zM39 25h3v1h-3zM36 26h1v1h-1zM39 26h1v1h-1zM39 27h1v1h-1zM42 27h1v1h-1zM37 28h2v1h-2zM42 28h1v1h-1zM44 28h1v1h-1zM36 29h1v1h-1zM41 29h2v1h-2zM21 30h1v1h-1zM34 30h1v1h-1zM36 30h1v1h-1zM41 30h2v1h-2zM45 30h1v1h-1zM34 31h1v1h-1zM42 31h1v1h-1zM45 31h1v1h-1zM33 32h1v1h-1zM36 32h1v1h-1zM40 32h4v1h-4zM23 33h1v1h-1zM43 33h1v1h-1zM23 34h2v1h-2zM28 34h2v1h-2zM33 34h1v1h-1zM38 34h1v1h-1zM43 34h1v1h-1zM33 35h1v1h-1zM36 35h3v1h-3zM40 35h1v1h-1zM42 35h1v1h-1zM19 36h2v1h-2zM23 36h1v1h-1zM36 36h1v1h-1zM40 36h2v1h-2zM44 36h2v1h-2zM20 37h1v1h-1zM41 37h1v1h-1zM44 37h1v1h-1zM24 38h1v1h-1zM27 38h1v1h-1zM35 38h1v1h-1zM46 38h1v1h-1zM21 39h1v1h-1zM26 39h2v1h-2zM44 39h1v1h-1zM26 40h1v1h-1zM32 40h1v1h-1zM41 40h1v1h-1zM20 41h1v1h-1zM22 41h2v1h-2zM44 41h1v1h-1zM28 42h1v1h-1zM20 43h1v1h-1zM31 43h1v1h-1zM33 43h2v1h-2zM24 44h1v1h-1zM29 44h1v1h-1zM42 44h1v1h-1zM19 45h1v1h-1zM26 45h1v1h-1zM31 45h1v1h-1zM24 46h1v1h-1zM27 46h2v1h-2zM31 46h2v1h-2zM25 47h2v1h-2zM38 47h1v1h-1zM39 49h1v1h-1zM36 51h2v1h-2z"/>
<path fill="#00b8ff" d="M26 14h1v1h-1zM24 16h1v1h-1zM42 17h1v1h-1zM43 24h1v1h-1zM42 25h1v1h-1zM37 26h2v1h-2zM40 26h1v1h-1zM34 27h2v1h-2zM37 27h2v1h-2zM41 27h1v1h-1zM43 27h1v1h-1zM36 28h1v1h-1zM39 28h1v1h-1zM41 28h1v1h-1zM14 29h1v1h-1zM34 29h2v1h-2zM37 29h1v1h-1zM39 29h2v1h-2zM43 30h1v1h-1zM27 31h1v1h-1zM38 31h2v1h-2zM41 31h1v1h-1zM43 31h2v1h-2zM46 31h1v1h-1zM15 32h1v1h-1zM35 32h1v1h-1zM39 32h1v1h-1zM49 32h1v1h-1zM26 33h1v1h-1zM29 33h1v1h-1zM33 33h2v1h-2zM38 33h1v1h-1zM44 33h1v1h-1zM21 34h2v1h-2zM25 34h2v1h-2zM31 34h1v1h-1zM34 34h1v1h-1zM37 34h1v1h-1zM41 34h2v1h-2zM25 35h4v1h-4zM32 35h1v1h-1zM34 35h1v1h-1zM39 35h1v1h-1zM43 35h1v1h-1zM48 35h1v1h-1zM50 35h1v1h-1zM24 36h1v1h-1zM29 36h1v1h-1zM33 36h1v1h-1zM38 36h1v1h-1zM43 36h1v1h-1zM31 37h1v1h-1zM33 37h1v1h-1zM36 37h2v1h-2zM40 37h1v1h-1zM49 37h1v1h-1zM28 38h4v1h-4zM33 38h1v1h-1zM37 38h4v1h-4zM42 38h2v1h-2zM45 38h1v1h-1zM28 39h1v1h-1zM32 39h1v1h-1zM39 39h2v1h-2zM23 40h1v1h-1zM28 40h3v1h-3zM24 41h1v1h-1zM27 41h2v1h-2zM32 41h3v1h-3zM43 41h1v1h-1zM23 42h2v1h-2zM33 42h1v1h-1zM21 43h1v1h-1zM25 43h1v1h-1zM32 43h1v1h-1zM18 44h1v1h-1zM21 44h1v1h-1zM25 44h1v1h-1zM27 44h2v1h-2zM31 44h3v1h-3zM25 45h1v1h-1zM30 45h1v1h-1zM33 45h1v1h-1zM22 46h1v1h-1zM26 46h1v1h-1zM22 47h1v1h-1zM24 47h1v1h-1zM27 47h1v1h-1zM37 48h1v1h-1z"/>
<path fill="#00f5ff" d="M28 17h1v1h-1zM17 24h1v1h-1zM20 24h1v1h-1zM18 25h1v1h-1zM20 26h2v1h-2zM21 27h1v1h-1zM36 27h1v1h-1zM40 27h1v1h-1zM35 28h1v1h-1zM40 28h1v1h-1zM43 28h1v1h-1zM23 29h1v1h-1zM32 29h1v1h-1zM38 29h1v1h-1zM33 30h1v1h-1zM37 30h1v1h-1zM40 30h1v1h-1zM24 31h1v1h-1zM28 31h1v1h-1zM40 31h1v1h-1zM26 32h1v1h-1zM37 32h1v1h-1zM44 32h2v1h-2zM19 33h1v1h-1zM25 33h1v1h-1zM35 33h3v1h-3zM39 33h1v1h-1zM41 33h1v1h-1zM45 33h1v1h-1zM30 34h1v1h-1zM35 34h2v1h-2zM39 34h2v1h-2zM44 34h2v1h-2zM23 35h1v1h-1zM30 35h2v1h-2zM35 35h1v1h-1zM16 36h1v1h-1zM27 36h2v1h-2zM31 36h1v1h-1zM39 36h1v1h-1zM42 36h1v1h-1zM22 37h1v1h-1zM26 37h4v1h-4zM32 37h1v1h-1zM35 37h1v1h-1zM38 37h1v1h-1zM42 37h2v1h-2zM19 38h1v1h-1zM22 38h1v1h-1zM25 38h1v1h-1zM32 38h1v1h-1zM34 38h1v1h-1zM36 38h1v1h-1zM23 39h1v1h-1zM25 39h1v1h-1zM29 39h1v1h-1zM31 39h1v1h-1zM33 39h2v1h-2zM37 39h2v1h-2zM41 39h2v1h-2zM24 40h2v1h-2zM27 40h1v1h-1zM45 40h1v1h-1zM21 41h1v1h-1zM26 41h1v1h-1zM25 42h1v1h-1zM27 42h1v1h-1zM30 42h3v1h-3zM26 43h2v1h-2zM30 43h1v1h-1zM22 44h1v1h-1zM26 44h1v1h-1zM30 44h1v1h-1zM34 44h1v1h-1zM27 45h2v1h-2zM23 46h1v1h-1zM20 47h2v1h-2zM26 48h1v1h-1zM39 48h1v1h-1zM25 50h1v1h-1z"/>
<path fill="#33ffcc" d="M27 15h1v1h-1zM39 17h1v1h-1zM31 18h2v1h-2zM40 24h1v1h-1zM38 25h1v1h-1zM45 25h1v1h-1zM32 26h1v1h-1zM41 26h2v1h-2zM15 30h1v1h-1zM17 30h2v1h-2zM35 30h1v1h-1zM38 30h1v1h-1zM44 30h1v1h-1zM35 31h2v1h-2zM18 33h1v1h-1zM27 33h1v1h-1zM40 33h1v1h-1zM42 33h1v1h-1zM49 33h1v1h-1zM16 34h1v1h-1zM27 34h1v1h-1zM21 35h1v1h-1zM24 35h1v1h-1zM29 35h1v1h-1zM44 35h1v1h-1zM22 36h1v1h-1zM32 36h1v1h-1zM35 36h1v1h-1zM16 37h1v1h-1zM19 37h1v1h-1zM34 37h1v1h-1zM39 37h1v1h-1zM23 38h1v1h-1zM26 38h1v1h-1zM20 39h1v1h-1zM22 39h1v1h-1zM30 39h1v1h-1zM43 39h1v1h-1zM18 40h1v1h-1zM21 40h2v1h-2zM31 40h1v1h-1zM33 40h1v1h-1zM29 41h3v1h-3zM34 42h1v1h-1zM19 43h1v1h-1zM23 43h2v1h-2zM29 43h1v1h-1zM20 45h1v1h-1zM29 45h1v1h-1zM25 46h1v1h-1z"/>
<path fill="#80ff80" d="M25 16h2v1h-2zM18 23h1v1h-1zM34 26h1v1h-1zM39 30h1v1h-1zM17 31h2v1h-2zM23 31h1v1h-1zM37 31h1v1h-1zM48 31h1v1h-1zM23 32h1v1h-1zM24 33h1v1h-1zM45 35h1v1h-1zM34 36h1v1h-1zM30 37h1v1h-1zM20 38h1v1h-1zM34 40h1v1h-1zM25 41h1v1h-1zM19 42h1v1h-1zM22 43h1v1h-1zM28 43h1v1h-1zM44 47h1v1h-1zM39 50h1v1h-1z"/>
<path fill="#c2ff3d" d="M25 15h1v1h-1zM21 17h1v1h-1zM32 17h1v1h-1zM19 20h1v1h-1zM30 20h2v1h-2zM19 21h1v1h-1zM34 21h1v1h-1zM21 24h1v1h-1zM30 24h1v1h-1zM32 24h2v1h-2zM21 25h1v1h-1zM28 25h2v1h-2zM19 26h1v1h-1zM25 26h1v1h-1zM28 26h2v1h-2zM20 27h1v1h-1zM22 27h1v1h-1zM21 28h1v1h-1zM33 28h1v1h-1zM22 29h1v1h-1zM24 29h2v1h-2zM14 30h1v1h-1zM29 30h1v1h-1zM25 31h1v1h-1zM46 32h1v1h-1zM25 36h2v1h-2zM48 36h1v1h-1zM25 37h1v1h-1z"/>
<path fill="#f0ff0f" d="M25 18h2v1h-2zM23 19h1v1h-1zM32 19h1v1h-1zM25 20h2v1h-2zM29 20h1v1h-1zM32 20h2v1h-2zM23 21h1v1h-1zM27 21h2v1h-2zM26 22h2v1h-2zM32 22h2v1h-2zM28 23h1v1h-1zM31 23h3v1h-3zM27 24h3v1h-3zM31 24h1v1h-1zM19 25h1v1h-1zM26 25h2v1h-2zM37 25h1v1h-1zM22 26h1v1h-1zM26 26h1v1h-1zM33 26h1v1h-1zM19 27h1v1h-1zM25 27h1v1h-1zM28 27h2v1h-2zM27 28h1v1h-1zM31 28h2v1h-2zM16 29h1v1h-1zM21 29h1v1h-1zM27 29h1v1h-1zM25 30h1v1h-1zM27 30h1v1h-1zM16 32h1v1h-1zM18 38h1v1h-1zM17 39h1v1h-1zM26 42h1v1h-1zM23 47h1v1h-1zM39 47h1v1h-1zM27 48h1v1h-1zM34 51h1v1h-1z"/>
<path fill="#ffeb00" d="M42 16h1v1h-1zM22 17h1v1h-1zM30 18h1v1h-1zM20 19h2v1h-2zM27 19h1v1h-1zM29 19h2v1h-2zM22 20h1v1h-1zM28 20h1v1h-1zM24 21h1v1h-1zM33 21h1v1h-1zM22 22h2v1h-2zM28 22h1v1h-1zM30 22h2v1h-2zM34 22h1v1h-1zM23 23h2v1h-2zM16 25h1v1h-1zM33 25h1v1h-1zM30 26h2v1h-2zM24 27h1v1h-1zM26 27h1v1h-1zM32 27h2v1h-2zM20 28h1v1h-1zM22 28h2v1h-2zM29 28h2v1h-2zM26 29h1v1h-1zM28 29h2v1h-2zM26 30h1v1h-1zM30 30h1v1h-1zM23 37h2v1h-2zM20 44h1v1h-1zM41 49h1v1h-1z"/>
<path fill="#ffc200" d="M27 16h1v1h-1zM21 18h1v1h-1zM23 18h1v1h-1zM27 18h1v1h-1zM29 18h1v1h-1zM28 19h1v1h-1zM31 19h1v1h-1zM33 19h1v1h-1zM27 20h1v1h-1zM22 21h1v1h-1zM25 21h1v1h-1zM29 21h1v1h-1zM29 22h1v1h-1zM19 23h1v1h-1zM21 23h1v1h-1zM25 23h1v1h-1zM27 23h1v1h-1zM34 23h1v1h-1zM23 24h3v1h-3zM34 24h1v1h-1zM25 25h1v1h-1zM34 25h1v1h-1zM24 26h1v1h-1zM27 26h1v1h-1zM27 27h1v1h-1zM30 27h1v1h-1zM24 28h1v1h-1zM28 28h1v1h-1zM31 29h1v1h-1zM22 30h1v1h-1zM24 30h1v1h-1zM28 30h1v1h-1zM48 34h1v1h-1zM21 36h1v1h-1zM42 48h1v1h-1z"/>
<path fill="#ff9900" d="M26 15h1v1h-1zM29 17h1v1h-1zM24 18h1v1h-1zM28 18h1v1h-1zM24 19h1v1h-1zM23 20h2v1h-2zM30 21h2v1h-2zM25 22h1v1h-1zM20 23h1v1h-1zM29 23h2v1h-2zM26 24h1v1h-1zM23 25h1v1h-1zM30 25h1v1h-1zM31 27h1v1h-1zM26 28h1v1h-1zM30 29h1v1h-1zM26 31h1v1h-1zM49 31h1v1h-1zM48 33h1v1h-1zM18 39h1v1h-1zM18 42h1v1h-1zM38 48h1v1h-1z"/>
<path fill="#ff7000" d="M25 19h2v1h-2zM26 21h1v1h-1zM24 22h1v1h-1zM26 23h1v1h-1zM22 25h1v1h-1zM24 25h1v1h-1zM31 25h2v1h-2zM23 27h1v1h-1zM25 28h1v1h-1zM16 31h1v1h-1zM48 32h1v1h-1zM28 33h1v1h-1zM49 34h1v1h-1zM15 36h1v1h-1zM17 44h1v1h-1zM19 44h1v1h-1z"/>
<path fill="#ff2e00" d="M30 16h1v1h-1zM21 20h1v1h-1zM32 21h1v1h-1zM21 22h1v1h-1zM22 23h1v1h-1zM22 24h1v1h-1zM16 26h1v1h-1zM23 30h1v1h-1z"/>
<path fill="#f00000" d="M28 16h1v1h-1zM20 18h1v1h-1zM22 18h1v1h-1zM22 19h1v1h-1zM23 26h1v1h-1zM15 34h1v1h-1zM50 37h1v1h-1zM38 50h1v1h-1z"/>
<path fill="#b30000" d="M30 17h2v1h-2zM20 20h1v1h-1zM21 21h1v1h-1zM19 22h1v1h-1zM18 41h1v1h-1z"/>
<path fill="#800000" d="M38 13h1v1h-1zM24 14h2v1h-2zM24 15h1v1h-1zM41 15h1v1h-1zM29 16h1v1h-1zM20 17h1v1h-1zM44 18h1v1h-1zM20 21h1v1h-1zM18 22h1v1h-1zM20 22h1v1h-1zM16 24h1v1h-1zM18 24h1v1h-1zM14 26h2v1h-2zM49 26h1v1h-1zM50 30h1v1h-1zM50 31h1v1h-1zM50 32h1v1h-1zM15 33h1v1h-1zM50 33h1v1h-1zM50 34h1v1h-1zM48 41h1v1h-1zM18 43h1v1h-1zM24 50h1v1h-1zM27 51h1v1h-1zM32 52h1v1h-1z"/>
</g>
</g></g>
<g id="mape"><rect x="260" y="2790" width="1155" height="1155.6" fill="#000080"/>
<g filter="url(#px2)">
<g transform="translate(260 2790) scale(18.04688 18.05625)" shape-rendering="crispEdges">
<path fill="#00009e" d="M28 15h1v1h-1zM40 20h1v1h-1zM42 20h1v1h-1zM41 21h1v1h-1zM31 22h1v1h-1zM32 23h1v1h-1zM36 23h1v1h-1zM41 23h1v1h-1zM23 24h1v1h-1zM28 24h1v1h-1zM31 24h1v1h-1zM38 24h1v1h-1zM36 25h1v1h-1zM38 25h1v1h-1zM20 26h1v1h-1zM23 27h1v1h-1zM36 28h2v1h-2zM15 30h1v1h-1zM23 30h1v1h-1zM28 31h1v1h-1zM47 31h1v1h-1zM37 32h1v1h-1zM37 33h1v1h-1zM45 33h1v1h-1zM25 34h1v1h-1zM36 36h1v1h-1zM38 36h1v1h-1zM16 37h1v1h-1zM31 39h1v1h-1zM36 40h1v1h-1zM42 40h2v1h-2zM37 41h1v1h-1zM42 41h1v1h-1zM45 41h1v1h-1zM39 42h1v1h-1zM31 44h1v1h-1zM38 46h1v1h-1zM36 47h1v1h-1zM42 47h1v1h-1zM30 49h1v1h-1z"/>
<path fill="#0000c7" d="M31 14h1v1h-1zM29 15h1v1h-1zM31 15h1v1h-1zM31 16h1v1h-1zM21 17h1v1h-1zM31 17h1v1h-1zM32 18h2v1h-2zM39 18h1v1h-1zM41 20h1v1h-1zM17 21h1v1h-1zM36 21h1v1h-1zM39 21h1v1h-1zM26 22h1v1h-1zM41 22h2v1h-2zM26 23h1v1h-1zM31 23h1v1h-1zM43 23h2v1h-2zM32 24h2v1h-2zM36 24h2v1h-2zM46 24h1v1h-1zM17 25h1v1h-1zM27 25h1v1h-1zM47 25h1v1h-1zM17 26h1v1h-1zM24 26h1v1h-1zM45 26h1v1h-1zM21 28h1v1h-1zM34 28h1v1h-1zM38 28h2v1h-2zM46 28h1v1h-1zM33 29h1v1h-1zM42 30h1v1h-1zM20 31h1v1h-1zM41 31h1v1h-1zM27 32h1v1h-1zM36 32h1v1h-1zM41 32h1v1h-1zM45 32h1v1h-1zM23 33h3v1h-3zM27 33h1v1h-1zM29 33h1v1h-1zM46 33h1v1h-1zM15 34h1v1h-1zM17 34h1v1h-1zM24 34h1v1h-1zM27 34h1v1h-1zM18 35h1v1h-1zM21 35h1v1h-1zM24 35h2v1h-2zM39 35h1v1h-1zM39 36h1v1h-1zM45 36h1v1h-1zM38 37h1v1h-1zM20 38h3v1h-3zM24 38h1v1h-1zM27 38h1v1h-1zM40 38h1v1h-1zM44 38h1v1h-1zM30 39h1v1h-1zM35 39h3v1h-3zM20 40h1v1h-1zM37 40h1v1h-1zM47 40h1v1h-1zM21 41h2v1h-2zM34 41h3v1h-3zM38 41h1v1h-1zM41 41h1v1h-1zM33 42h2v1h-2zM36 42h1v1h-1zM41 42h1v1h-1zM18 43h1v1h-1zM24 43h1v1h-1zM34 43h1v1h-1zM36 43h2v1h-2zM42 43h1v1h-1zM44 43h1v1h-1zM20 44h1v1h-1zM28 44h1v1h-1zM32 44h1v1h-1zM29 45h2v1h-2zM42 45h2v1h-2zM21 46h2v1h-2zM26 46h1v1h-1zM36 46h2v1h-2zM24 47h1v1h-1zM26 47h1v1h-1zM28 47h2v1h-2zM25 48h1v1h-1zM26 49h1v1h-1zM29 49h1v1h-1zM36 49h1v1h-1zM27 50h1v1h-1zM34 50h1v1h-1z"/>
<path fill="#0000ff" d="M33 15h1v1h-1zM35 15h2v1h-2zM32 16h2v1h-2zM27 17h1v1h-1zM36 18h1v1h-1zM35 19h1v1h-1zM40 19h1v1h-1zM26 21h1v1h-1zM17 22h1v1h-1zM34 22h1v1h-1zM36 22h1v1h-1zM40 22h1v1h-1zM44 22h1v1h-1zM29 23h1v1h-1zM40 23h1v1h-1zM42 23h1v1h-1zM45 23h1v1h-1zM26 24h1v1h-1zM42 24h1v1h-1zM23 25h1v1h-1zM29 25h1v1h-1zM42 25h1v1h-1zM46 25h1v1h-1zM25 26h1v1h-1zM38 26h1v1h-1zM20 27h1v1h-1zM36 27h1v1h-1zM42 27h1v1h-1zM48 27h1v1h-1zM20 28h1v1h-1zM21 29h1v1h-1zM34 29h1v1h-1zM20 30h1v1h-1zM24 30h1v1h-1zM26 30h1v1h-1zM28 30h1v1h-1zM43 30h1v1h-1zM18 31h1v1h-1zM27 31h1v1h-1zM40 31h1v1h-1zM17 32h1v1h-1zM23 32h2v1h-2zM28 32h1v1h-1zM38 32h3v1h-3zM43 32h1v1h-1zM46 32h2v1h-2zM41 33h2v1h-2zM44 33h1v1h-1zM16 34h1v1h-1zM39 34h1v1h-1zM47 34h1v1h-1zM36 35h1v1h-1zM41 35h1v1h-1zM43 35h1v1h-1zM19 36h1v1h-1zM24 36h1v1h-1zM41 36h2v1h-2zM21 37h1v1h-1zM35 37h1v1h-1zM40 37h1v1h-1zM43 37h1v1h-1zM47 37h2v1h-2zM19 38h1v1h-1zM45 38h1v1h-1zM17 39h2v1h-2zM22 39h1v1h-1zM45 39h1v1h-1zM21 40h2v1h-2zM25 40h1v1h-1zM31 40h1v1h-1zM38 40h2v1h-2zM41 40h1v1h-1zM16 41h1v1h-1zM19 41h2v1h-2zM22 42h1v1h-1zM24 42h2v1h-2zM29 42h1v1h-1zM44 42h1v1h-1zM20 43h1v1h-1zM22 43h1v1h-1zM25 43h1v1h-1zM38 43h1v1h-1zM24 44h1v1h-1zM36 44h1v1h-1zM38 44h2v1h-2zM43 44h1v1h-1zM22 45h1v1h-1zM28 45h1v1h-1zM44 45h1v1h-1zM31 46h1v1h-1zM33 46h1v1h-1zM41 46h1v1h-1zM22 47h2v1h-2zM30 47h1v1h-1z"/>
<path fill="#0038ff" d="M25 15h1v1h-1zM30 15h1v1h-1zM32 15h1v1h-1zM34 15h1v1h-1zM30 16h1v1h-1zM20 19h1v1h-1zM32 19h1v1h-1zM41 19h1v1h-1zM39 20h1v1h-1zM19 21h2v1h-2zM22 21h1v1h-1zM40 21h1v1h-1zM44 21h1v1h-1zM22 22h1v1h-1zM32 22h1v1h-1zM43 22h1v1h-1zM45 22h1v1h-1zM46 23h1v1h-1zM20 24h1v1h-1zM28 25h1v1h-1zM33 25h2v1h-2zM39 25h1v1h-1zM18 26h1v1h-1zM42 26h1v1h-1zM47 26h1v1h-1zM16 27h1v1h-1zM24 27h1v1h-1zM27 27h1v1h-1zM37 27h2v1h-2zM40 27h1v1h-1zM32 28h1v1h-1zM42 28h1v1h-1zM48 28h1v1h-1zM23 29h1v1h-1zM38 29h1v1h-1zM42 29h1v1h-1zM44 29h1v1h-1zM39 30h1v1h-1zM44 30h1v1h-1zM19 31h1v1h-1zM22 31h3v1h-3zM39 31h1v1h-1zM42 31h2v1h-2zM22 32h1v1h-1zM26 32h1v1h-1zM29 32h1v1h-1zM41 34h4v1h-4zM28 35h1v1h-1zM40 35h1v1h-1zM44 35h1v1h-1zM25 36h1v1h-1zM40 36h1v1h-1zM46 36h1v1h-1zM20 37h1v1h-1zM24 37h1v1h-1zM41 37h2v1h-2zM44 37h3v1h-3zM16 38h1v1h-1zM25 38h1v1h-1zM28 38h1v1h-1zM37 38h1v1h-1zM21 39h1v1h-1zM24 39h2v1h-2zM34 39h1v1h-1zM39 39h1v1h-1zM44 39h1v1h-1zM23 40h2v1h-2zM29 41h1v1h-1zM33 41h1v1h-1zM42 42h1v1h-1zM23 43h1v1h-1zM26 44h1v1h-1zM40 44h1v1h-1zM42 44h1v1h-1zM44 44h1v1h-1zM23 46h2v1h-2zM27 47h1v1h-1zM35 47h1v1h-1zM41 47h1v1h-1zM25 49h1v1h-1zM30 50h1v1h-1z"/>
<path fill="#0080ff" d="M28 16h1v1h-1zM24 18h1v1h-1zM28 18h1v1h-1zM18 19h2v1h-2zM33 19h1v1h-1zM42 19h1v1h-1zM33 20h1v1h-1zM23 21h3v1h-3zM37 21h1v1h-1zM42 21h1v1h-1zM23 22h1v1h-1zM23 23h1v1h-1zM37 23h1v1h-1zM41 24h1v1h-1zM18 25h1v1h-1zM20 25h1v1h-1zM44 25h1v1h-1zM23 26h1v1h-1zM33 26h1v1h-1zM41 26h1v1h-1zM44 26h1v1h-1zM17 27h1v1h-1zM21 27h1v1h-1zM25 27h1v1h-1zM41 27h1v1h-1zM47 27h1v1h-1zM15 28h1v1h-1zM27 28h2v1h-2zM41 28h1v1h-1zM26 29h1v1h-1zM35 29h1v1h-1zM39 29h1v1h-1zM29 31h1v1h-1zM37 31h2v1h-2zM18 32h1v1h-1zM42 32h1v1h-1zM26 33h1v1h-1zM38 33h2v1h-2zM23 34h1v1h-1zM28 34h1v1h-1zM38 34h1v1h-1zM15 35h1v1h-1zM38 35h1v1h-1zM42 35h1v1h-1zM47 35h1v1h-1zM20 36h2v1h-2zM35 36h1v1h-1zM44 36h1v1h-1zM22 37h1v1h-1zM37 37h1v1h-1zM23 38h1v1h-1zM36 38h1v1h-1zM39 38h1v1h-1zM18 40h1v1h-1zM30 40h1v1h-1zM32 40h1v1h-1zM40 40h1v1h-1zM18 41h1v1h-1zM23 41h2v1h-2zM30 41h1v1h-1zM32 41h1v1h-1zM20 42h1v1h-1zM23 42h1v1h-1zM45 42h1v1h-1zM19 43h1v1h-1zM17 44h1v1h-1zM21 44h3v1h-3zM25 44h1v1h-1zM24 45h1v1h-1zM26 45h2v1h-2zM31 45h1v1h-1zM19 46h1v1h-1zM29 46h1v1h-1zM42 46h1v1h-1zM23 48h1v1h-1zM29 48h2v1h-2zM40 48h2v1h-2zM23 49h1v1h-1zM28 50h2v1h-2zM31 51h1v1h-1z"/>
<path fill="#00b8ff" d="M26 15h1v1h-1zM26 17h1v1h-1zM28 17h1v1h-1zM21 18h1v1h-1zM24 19h1v1h-1zM20 20h1v1h-1zM22 20h1v1h-1zM25 20h1v1h-1zM43 20h1v1h-1zM43 21h1v1h-1zM20 22h1v1h-1zM30 22h1v1h-1zM39 22h1v1h-1zM16 24h1v1h-1zM19 24h1v1h-1zM40 24h1v1h-1zM19 25h1v1h-1zM26 26h2v1h-2zM37 26h1v1h-1zM46 26h1v1h-1zM46 27h1v1h-1zM35 28h1v1h-1zM22 29h1v1h-1zM24 29h1v1h-1zM21 30h1v1h-1zM25 30h1v1h-1zM38 30h1v1h-1zM45 30h1v1h-1zM26 31h1v1h-1zM25 32h1v1h-1zM44 32h1v1h-1zM28 33h1v1h-1zM36 33h1v1h-1zM40 33h1v1h-1zM43 33h1v1h-1zM48 33h1v1h-1zM21 34h1v1h-1zM26 34h1v1h-1zM35 34h2v1h-2zM26 35h1v1h-1zM35 35h1v1h-1zM46 35h1v1h-1zM26 36h1v1h-1zM28 36h1v1h-1zM32 36h1v1h-1zM37 36h1v1h-1zM43 36h1v1h-1zM18 37h2v1h-2zM23 37h1v1h-1zM29 37h1v1h-1zM36 37h1v1h-1zM39 37h1v1h-1zM38 38h1v1h-1zM41 38h1v1h-1zM23 39h1v1h-1zM27 39h1v1h-1zM38 39h1v1h-1zM40 39h2v1h-2zM28 40h1v1h-1zM44 40h1v1h-1zM44 41h1v1h-1zM21 42h1v1h-1zM27 42h2v1h-2zM31 42h1v1h-1zM30 44h1v1h-1zM23 45h1v1h-1zM27 46h2v1h-2zM20 47h1v1h-1zM26 50h1v1h-1z"/>
<path fill="#00f5ff" d="M32 14h1v1h-1zM34 14h1v1h-1zM22 17h1v1h-1zM27 18h1v1h-1zM29 18h1v1h-1zM22 19h2v1h-2zM23 20h1v1h-1zM26 20h1v1h-1zM24 22h1v1h-1zM21 23h1v1h-1zM24 23h1v1h-1zM21 24h1v1h-1zM24 24h2v1h-2zM34 24h1v1h-1zM39 24h1v1h-1zM25 25h1v1h-1zM33 27h1v1h-1zM45 27h1v1h-1zM19 28h1v1h-1zM22 28h1v1h-1zM44 28h1v1h-1zM37 29h1v1h-1zM45 29h1v1h-1zM27 30h1v1h-1zM45 31h2v1h-2zM17 33h1v1h-1zM40 34h1v1h-1zM48 34h1v1h-1zM19 35h2v1h-2zM23 35h1v1h-1zM23 36h1v1h-1zM48 36h2v1h-2zM28 37h1v1h-1zM34 37h1v1h-1zM29 38h1v1h-1zM42 38h2v1h-2zM46 38h1v1h-1zM29 39h1v1h-1zM42 39h2v1h-2zM26 40h1v1h-1zM45 40h1v1h-1zM26 41h3v1h-3zM28 43h1v1h-1zM19 45h1v1h-1zM21 47h1v1h-1zM40 47h1v1h-1zM35 50h1v1h-1z"/>
<path fill="#33ffcc" d="M33 14h1v1h-1zM26 16h1v1h-1zM29 17h2v1h-2zM20 18h1v1h-1zM25 18h1v1h-1zM30 18h1v1h-1zM42 18h1v1h-1zM25 19h2v1h-2zM24 20h1v1h-1zM21 21h1v1h-1zM25 22h1v1h-1zM20 23h1v1h-1zM22 23h1v1h-1zM25 23h1v1h-1zM30 24h1v1h-1zM26 25h1v1h-1zM37 25h1v1h-1zM41 25h1v1h-1zM19 26h1v1h-1zM40 26h1v1h-1zM44 27h1v1h-1zM40 28h1v1h-1zM45 28h1v1h-1zM15 29h1v1h-1zM20 29h1v1h-1zM40 29h1v1h-1zM46 29h1v1h-1zM40 30h1v1h-1zM46 30h1v1h-1zM16 31h1v1h-1zM16 33h1v1h-1zM47 33h1v1h-1zM25 37h2v1h-2zM32 37h1v1h-1zM17 38h1v1h-1zM25 41h1v1h-1zM26 42h1v1h-1zM17 43h1v1h-1zM27 43h1v1h-1zM32 43h1v1h-1zM33 44h1v1h-1z"/>
<path fill="#80ff80" d="M27 19h1v1h-1zM32 20h1v1h-1zM27 23h1v1h-1zM18 24h1v1h-1zM21 25h1v1h-1zM22 27h1v1h-1zM32 27h1v1h-1zM22 30h1v1h-1zM25 31h1v1h-1z"/>
<path fill="#c2ff3d" d="M22 18h1v1h-1zM26 18h1v1h-1zM31 19h1v1h-1zM27 21h1v1h-1zM32 21h1v1h-1zM30 23h1v1h-1zM33 23h1v1h-1zM40 25h1v1h-1zM45 25h1v1h-1zM22 26h1v1h-1zM29 30h1v1h-1zM37 30h1v1h-1zM44 31h1v1h-1zM19 34h1v1h-1zM30 34h1v1h-1zM49 35h1v1h-1zM33 36h1v1h-1zM18 38h1v1h-1zM26 38h1v1h-1zM16 42h1v1h-1zM29 43h1v1h-1zM33 43h1v1h-1z"/>
<path fill="#f0ff0f" d="M25 17h1v1h-1zM28 19h1v1h-1zM19 20h1v1h-1zM29 20h1v1h-1zM31 20h1v1h-1zM21 22h1v1h-1zM19 23h1v1h-1zM28 23h1v1h-1zM16 26h1v1h-1zM18 27h2v1h-2zM23 28h1v1h-1zM26 28h1v1h-1zM19 29h1v1h-1zM27 29h2v1h-2zM17 31h1v1h-1zM34 31h1v1h-1zM27 40h1v1h-1z"/>
<path fill="#ffeb00" d="M27 15h1v1h-1zM27 16h1v1h-1zM23 17h2v1h-2zM23 18h1v1h-1zM31 18h1v1h-1zM18 21h1v1h-1zM29 21h1v1h-1zM24 25h1v1h-1zM36 26h1v1h-1zM32 30h1v1h-1zM34 30h1v1h-1zM31 35h1v1h-1zM33 35h1v1h-1zM47 36h1v1h-1zM33 38h1v1h-1zM46 41h1v1h-1zM18 44h2v1h-2zM39 49h1v1h-1z"/>
<path fill="#ffc200" d="M27 14h1v1h-1zM25 16h1v1h-1zM29 19h1v1h-1zM27 20h1v1h-1zM44 20h1v1h-1zM27 22h1v1h-1zM39 23h1v1h-1zM27 24h1v1h-1zM29 24h1v1h-1zM22 25h1v1h-1zM26 27h1v1h-1zM31 37h1v1h-1zM26 39h1v1h-1zM46 42h1v1h-1zM45 43h1v1h-1zM40 49h1v1h-1zM36 50h1v1h-1z"/>
<path fill="#ff9900" d="M24 16h1v1h-1zM30 19h1v1h-1zM33 22h1v1h-1zM18 23h1v1h-1zM22 24h1v1h-1zM21 26h1v1h-1zM30 27h1v1h-1zM24 28h1v1h-1zM49 33h1v1h-1zM30 35h1v1h-1zM30 36h1v1h-1z"/>
<path fill="#ff7000" d="M28 20h1v1h-1zM33 21h1v1h-1zM29 22h1v1h-1zM14 29h1v1h-1zM33 32h1v1h-1zM32 38h1v1h-1zM31 41h1v1h-1zM32 42h1v1h-1z"/>
<path fill="#ff2e00" d="M30 14h1v1h-1zM23 16h1v1h-1zM20 17h1v1h-1zM43 19h1v1h-1zM37 22h2v1h-2zM15 27h1v1h-1zM16 30h1v1h-1zM33 30h1v1h-1zM33 31h1v1h-1zM19 32h1v1h-1zM33 33h1v1h-1z"/>
<path fill="#f00000" d="M18 20h1v1h-1zM28 21h1v1h-1zM30 21h2v1h-2zM45 21h1v1h-1zM28 22h1v1h-1zM31 25h1v1h-1zM30 26h1v1h-1zM29 29h1v1h-1zM32 29h1v1h-1zM49 34h1v1h-1zM33 37h1v1h-1z"/>
<path fill="#b30000" d="M26 14h1v1h-1zM30 20h1v1h-1zM38 23h1v1h-1zM15 26h1v1h-1zM31 26h1v1h-1zM33 34h1v1h-1zM31 36h1v1h-1z"/>
<path fill="#800000" d="M31 13h1v1h-1zM33 13h1v1h-1zM28 14h2v1h-2zM37 14h1v1h-1zM24 15h1v1h-1zM40 15h1v1h-1zM41 16h1v1h-1zM42 17h1v1h-1zM43 18h1v1h-1zM46 22h1v1h-1zM32 25h1v1h-1zM48 26h1v1h-1zM29 27h1v1h-1zM29 28h1v1h-1zM33 28h1v1h-1zM49 30h1v1h-1zM49 32h1v1h-1zM17 40h1v1h-1zM47 41h1v1h-1zM45 44h1v1h-1zM22 49h1v1h-1zM37 50h1v1h-1zM27 51h1v1h-1zM30 51h1v1h-1zM32 51h2v1h-2z"/>
</g>
</g>
<rect x="260" y="2790" width="1155" height="2.6" fill="#7c7cc4"/><rect x="260" y="3943.4" width="1155" height="2.4" fill="#7c7cc4"/><rect x="260" y="2790" width="2" height="1155.6" fill="#1c1c92"/><rect x="1413" y="2790" width="2.4" height="1155.6" fill="#2a2aa0"/></g>
<g font-family='"Liberation Serif", "DejaVu Serif", serif' fill="#fff">
<text x="336.8" y="1565.4" font-size="78" xml:space="preserve">ΔR</text>
<text x="436" y="1524.5" font-size="45" xml:space="preserve">calib</text>
<text x="439" y="1591.4" font-size="45" xml:space="preserve">1ρ</text>
<text x="534.3" y="1555.5" font-size="78" xml:space="preserve">, CEST, t</text>
<text x="817.5" y="1581.5" font-size="45" xml:space="preserve">sat</text>
<text x="867" y="1555.5" font-size="78" xml:space="preserve">=1.5s, 1.25ppm</text>
<text x="336.8" y="2920.2" font-size="78" xml:space="preserve">ΔR</text>
<text x="436" y="2879.3" font-size="45" xml:space="preserve">calib</text>
<text x="439" y="2946.2" font-size="45" xml:space="preserve">1ρ</text>
<text x="534.3" y="2910.3" font-size="78" xml:space="preserve">, CEST, t</text>
<text x="817.5" y="2936.3" font-size="45" xml:space="preserve">sat</text>
<text x="867" y="2910.3" font-size="78" xml:space="preserve">=0.5s, 1.25ppm</text>
<text x="1942.6" y="1561" font-size="78" xml:space="preserve">ΔR</text>
<text x="2042" y="1521" font-size="45" xml:space="preserve">calib</text>
<text x="2045" y="1588" font-size="45" xml:space="preserve">1ρ</text>
<text x="2124.6" y="1566.6" font-size="67" xml:space="preserve">, FASR-CEST, t</text>
<text x="2553" y="1588.4" font-size="38" xml:space="preserve">sat</text>
<text x="2595" y="1566.6" font-size="67" xml:space="preserve">=0.5s,  1.25ppm</text>
</g>
<rect x="1467.5" y="1453.8" width="91" height="1139.4" fill="url(#jet)" stroke="#000" stroke-width="2.6"/>
<path d="M1467.2 2592.9h92.6" stroke="#000" stroke-width="3.6"/>
<path d="M1558.2 1452.5v1142" stroke="#000" stroke-width="3.2"/>
<path d="M1466.2 1564.3h12.4M1559.8 1564.3h-12.4M1466.2 1681.7h12.4M1559.8 1681.7h-12.4M1466.2 1793.7h12.4M1559.8 1793.7h-12.4M1466.2 1908h12.4M1559.8 1908h-12.4M1466.2 2020h12.4M1559.8 2020h-12.4M1466.2 2137.7h12.4M1559.8 2137.7h-12.4M1466.2 2250h12.4M1559.8 2250h-12.4M1466.2 2364.3h12.4M1559.8 2364.3h-12.4M1466.2 2476.3h12.4M1559.8 2476.3h-12.4" stroke="#000" stroke-width="2.6" fill="none"/>
<g font-family='"Liberation Serif", "DejaVu Serif", serif' font-size="45" fill="#000">
<text x="1567.3" y="1479.4">1.0</text>
<text x="1567.3" y="1582">0.9</text>
<text x="1567.3" y="1697.7">0.8</text>
<text x="1567.3" y="1806.6">0.7</text>
<text x="1567.3" y="1919.1">0.6</text>
<text x="1567.3" y="2037.7">0.5</text>
<text x="1567.3" y="2148">0.4</text>
<text x="1567.3" y="2258.6">0.3</text>
<text x="1567.3" y="2379.4">0.2</text>
<text x="1567.3" y="2495.7">0.1</text>
<text x="1567.3" y="2600.4">0</text>
</g>
<rect x="3119.7" y="1462.2" width="90" height="1132.9" fill="url(#jet)" stroke="#000" stroke-width="2.6"/>
<path d="M3119.4 2594.8h91.6" stroke="#000" stroke-width="3.6"/>
<path d="M3209.4 1460.9v1135.5" stroke="#000" stroke-width="3.2"/>
<path d="M3118.4 1572.9h12.4M3211 1572.9h-12.4M3118.4 1690h12.4M3211 1690h-12.4M3118.4 1801.4h12.4M3211 1801.4h-12.4M3118.4 1915.1h12.4M3211 1915.1h-12.4M3118.4 2026.3h12.4M3211 2026.3h-12.4M3118.4 2142.9h12.4M3211 2142.9h-12.4M3118.4 2254h12.4M3211 2254h-12.4M3118.4 2367.7h12.4M3211 2367.7h-12.4M3118.4 2479.4h12.4M3211 2479.4h-12.4" stroke="#000" stroke-width="2.6" fill="none"/>
<g font-family='"Liberation Serif", "DejaVu Serif", serif' font-size="45" fill="#000">
<text x="3222.3" y="1480">1.0</text>
<text x="3222.3" y="1582.9">0.9</text>
<text x="3222.3" y="1698.6">0.8</text>
<text x="3222.3" y="1807.1">0.7</text>
<text x="3222.3" y="1920">0.6</text>
<text x="3222.3" y="2038.6">0.5</text>
<text x="3222.3" y="2149.1">0.4</text>
<text x="3222.3" y="2260">0.3</text>
<text x="3222.3" y="2380.6">0.2</text>
<text x="3222.3" y="2496.6">0.1</text>
<text x="3222.3" y="2601.2">0</text>
</g>
<rect x="1460.9" y="2790.6" width="100" height="1158.8" fill="url(#jet)"/>
<rect x="1460.9" y="2790.6" width="100" height="3" fill="#8d8f8c"/>
<rect x="1460.9" y="2793.6" width="100" height="3.4" fill="#4a0606"/>
<rect x="1460.9" y="3944.8" width="97" height="4.6" fill="#8f8f8a"/>
<rect x="1460.9" y="2793.6" width="4.2" height="1151.2" fill="#2c2c34" opacity="0.9"/>
<rect x="1557.9" y="2793.6" width="3" height="1152.8" fill="#2c2c34" opacity="0.85"/>
<path d="M1558.5 2907.4h-11.5M1558.5 3021.4h-11.5M1558.5 3136.6h-11.5M1558.5 3253.4h-11.5M1558.5 3369.4h-11.5M1558.5 3482.6h-11.5M1558.5 3600.6h-11.5M1558.5 3714.6h-11.5M1558.5 3828.3h-11.5" stroke="#3a3040" stroke-opacity="0.8" stroke-width="6.8" fill="none"/>
<g font-family='"Liberation Serif", "DejaVu Serif", serif' font-size="45" fill="#000">
<text x="1584.2" y="2808.6">2.0</text>
<text x="1584.2" y="2922.9">1.8</text>
<text x="1584.2" y="3038.6">1.6</text>
<text x="1584.2" y="3153.4">1.4</text>
<text x="1584.2" y="3266.6">1.2</text>
<text x="1584.2" y="3380">1.0</text>
<text x="1584.2" y="3493.7">0.8</text>
<text x="1584.2" y="3610.9">0.6</text>
<text x="1584.2" y="3732.3">0.4</text>
<text x="1584.2" y="3848">0.2</text>
<text x="1584.2" y="3951.7">0</text>
</g>
<g font-family='"Liberation Serif", "DejaVu Serif", serif' font-size="134" fill="#000">
<text x="-0.7" y="111.4">(a)</text>
<text x="1701.9" y="114.5">(b)</text>
<text x="-0.7" y="1522.2">(c)</text>
<text x="1703" y="1522">(d)</text>
<text x="-0.7" y="2821.2">(e)</text>
</g>
</svg></body></html>
